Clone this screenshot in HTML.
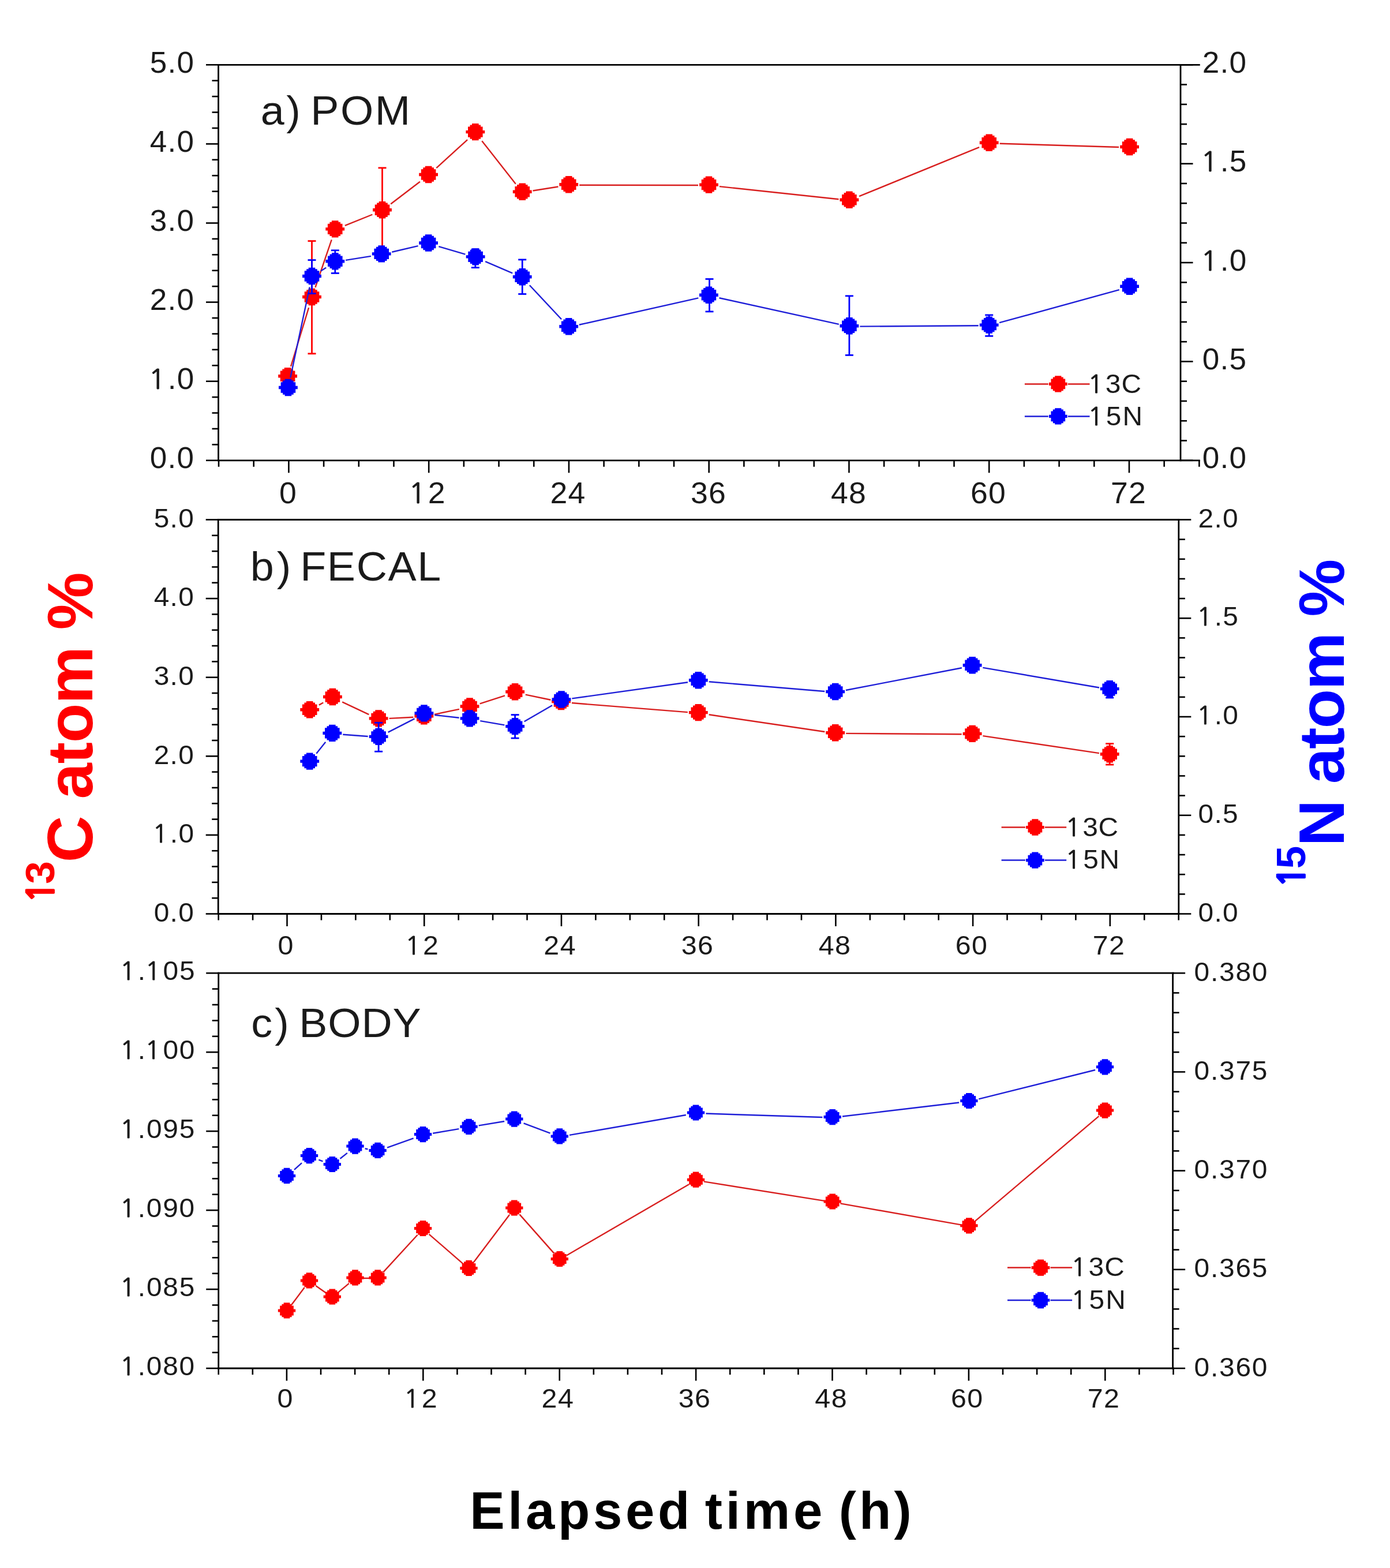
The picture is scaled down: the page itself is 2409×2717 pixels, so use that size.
<!DOCTYPE html>
<html><head><meta charset="utf-8"><title>Isotope enrichment over elapsed time</title>
<style>
html,body{margin:0;padding:0;background:#fff;}
svg{display:block;filter:blur(0.7px);}
text{font-family:"Liberation Sans",Arial,sans-serif;}
</style></head>
<body>
<svg width="2409" height="2717" viewBox="0 0 2409 2717">
<rect width="2409" height="2717" fill="#fff"/>
<line x1="377.62" y1="112.3" x2="2079.74" y2="112.3" stroke="#000" stroke-width="2.8" stroke-linecap="butt"/>
<line x1="377.62" y1="797.8" x2="2079.74" y2="797.8" stroke="#000" stroke-width="2.8" stroke-linecap="butt"/>
<line x1="378.5" y1="110.9" x2="378.5" y2="799.2" stroke="#000" stroke-width="2.8" stroke-linecap="butt"/>
<line x1="2046" y1="110.9" x2="2046" y2="799.2" stroke="#000" stroke-width="2.8" stroke-linecap="butt"/>
<line x1="379.02" y1="797.8" x2="379.02" y2="808.8" stroke="#000" stroke-width="2.6" stroke-linecap="butt"/>
<line x1="439.71" y1="797.8" x2="439.71" y2="808.8" stroke="#000" stroke-width="2.6" stroke-linecap="butt"/>
<line x1="500.4" y1="797.8" x2="500.4" y2="819.3" stroke="#000" stroke-width="2.6" stroke-linecap="butt"/>
<line x1="561.09" y1="797.8" x2="561.09" y2="808.8" stroke="#000" stroke-width="2.6" stroke-linecap="butt"/>
<line x1="621.78" y1="797.8" x2="621.78" y2="808.8" stroke="#000" stroke-width="2.6" stroke-linecap="butt"/>
<line x1="682.47" y1="797.8" x2="682.47" y2="808.8" stroke="#000" stroke-width="2.6" stroke-linecap="butt"/>
<line x1="743.16" y1="797.8" x2="743.16" y2="819.3" stroke="#000" stroke-width="2.6" stroke-linecap="butt"/>
<line x1="803.85" y1="797.8" x2="803.85" y2="808.8" stroke="#000" stroke-width="2.6" stroke-linecap="butt"/>
<line x1="864.54" y1="797.8" x2="864.54" y2="808.8" stroke="#000" stroke-width="2.6" stroke-linecap="butt"/>
<line x1="925.23" y1="797.8" x2="925.23" y2="808.8" stroke="#000" stroke-width="2.6" stroke-linecap="butt"/>
<line x1="985.92" y1="797.8" x2="985.92" y2="819.3" stroke="#000" stroke-width="2.6" stroke-linecap="butt"/>
<line x1="1046.61" y1="797.8" x2="1046.61" y2="808.8" stroke="#000" stroke-width="2.6" stroke-linecap="butt"/>
<line x1="1107.3" y1="797.8" x2="1107.3" y2="808.8" stroke="#000" stroke-width="2.6" stroke-linecap="butt"/>
<line x1="1167.99" y1="797.8" x2="1167.99" y2="808.8" stroke="#000" stroke-width="2.6" stroke-linecap="butt"/>
<line x1="1228.68" y1="797.8" x2="1228.68" y2="819.3" stroke="#000" stroke-width="2.6" stroke-linecap="butt"/>
<line x1="1289.37" y1="797.8" x2="1289.37" y2="808.8" stroke="#000" stroke-width="2.6" stroke-linecap="butt"/>
<line x1="1350.06" y1="797.8" x2="1350.06" y2="808.8" stroke="#000" stroke-width="2.6" stroke-linecap="butt"/>
<line x1="1410.75" y1="797.8" x2="1410.75" y2="808.8" stroke="#000" stroke-width="2.6" stroke-linecap="butt"/>
<line x1="1471.44" y1="797.8" x2="1471.44" y2="819.3" stroke="#000" stroke-width="2.6" stroke-linecap="butt"/>
<line x1="1532.13" y1="797.8" x2="1532.13" y2="808.8" stroke="#000" stroke-width="2.6" stroke-linecap="butt"/>
<line x1="1592.82" y1="797.8" x2="1592.82" y2="808.8" stroke="#000" stroke-width="2.6" stroke-linecap="butt"/>
<line x1="1653.51" y1="797.8" x2="1653.51" y2="808.8" stroke="#000" stroke-width="2.6" stroke-linecap="butt"/>
<line x1="1714.2" y1="797.8" x2="1714.2" y2="819.3" stroke="#000" stroke-width="2.6" stroke-linecap="butt"/>
<line x1="1774.89" y1="797.8" x2="1774.89" y2="808.8" stroke="#000" stroke-width="2.6" stroke-linecap="butt"/>
<line x1="1835.58" y1="797.8" x2="1835.58" y2="808.8" stroke="#000" stroke-width="2.6" stroke-linecap="butt"/>
<line x1="1896.27" y1="797.8" x2="1896.27" y2="808.8" stroke="#000" stroke-width="2.6" stroke-linecap="butt"/>
<line x1="1956.96" y1="797.8" x2="1956.96" y2="819.3" stroke="#000" stroke-width="2.6" stroke-linecap="butt"/>
<line x1="2017.65" y1="797.8" x2="2017.65" y2="808.8" stroke="#000" stroke-width="2.6" stroke-linecap="butt"/>
<line x1="2078.34" y1="797.8" x2="2078.34" y2="808.8" stroke="#000" stroke-width="2.6" stroke-linecap="butt"/>
<text transform="translate(484.01,872) scale(1.04,1)" style="font-size:51.5px;font-weight:normal;letter-spacing:1.2px" fill="#1a1a1a">0</text>
<text transform="translate(710.56,872) scale(1.04,1)" style="font-size:51.5px;font-weight:normal;letter-spacing:1.2px" fill="#1a1a1a"><tspan dx="-2.58" style="font-family:NanumGothic,'Liberation Sans',sans-serif;font-size:47.69px;stroke:#1a1a1a;stroke-width:0.9px">1</tspan><tspan dx="2.58">2</tspan></text>
<text transform="translate(953.45,872) scale(1.04,1)" style="font-size:51.5px;font-weight:normal;letter-spacing:1.2px" fill="#1a1a1a">24</text>
<text transform="translate(1196.93,872) scale(1.04,1)" style="font-size:51.5px;font-weight:normal;letter-spacing:1.2px" fill="#1a1a1a">36</text>
<text transform="translate(1440.07,872) scale(1.04,1)" style="font-size:51.5px;font-weight:normal;letter-spacing:1.2px" fill="#1a1a1a">48</text>
<text transform="translate(1681.97,872) scale(1.04,1)" style="font-size:51.5px;font-weight:normal;letter-spacing:1.2px" fill="#1a1a1a">60</text>
<text transform="translate(1925.03,872) scale(1.04,1)" style="font-size:51.5px;font-weight:normal;letter-spacing:1.2px" fill="#1a1a1a">72</text>
<line x1="357" y1="797.8" x2="378.5" y2="797.8" stroke="#000" stroke-width="2.6" stroke-linecap="butt"/>
<line x1="367.5" y1="770.38" x2="378.5" y2="770.38" stroke="#000" stroke-width="2.6" stroke-linecap="butt"/>
<line x1="367.5" y1="742.96" x2="378.5" y2="742.96" stroke="#000" stroke-width="2.6" stroke-linecap="butt"/>
<line x1="367.5" y1="715.54" x2="378.5" y2="715.54" stroke="#000" stroke-width="2.6" stroke-linecap="butt"/>
<line x1="367.5" y1="688.12" x2="378.5" y2="688.12" stroke="#000" stroke-width="2.6" stroke-linecap="butt"/>
<text transform="translate(259.85,811.3) scale(1.04,1)" style="font-size:51px;font-weight:normal;letter-spacing:1.2px" fill="#1a1a1a">0.0</text>
<line x1="357" y1="660.7" x2="378.5" y2="660.7" stroke="#000" stroke-width="2.6" stroke-linecap="butt"/>
<line x1="367.5" y1="633.28" x2="378.5" y2="633.28" stroke="#000" stroke-width="2.6" stroke-linecap="butt"/>
<line x1="367.5" y1="605.86" x2="378.5" y2="605.86" stroke="#000" stroke-width="2.6" stroke-linecap="butt"/>
<line x1="367.5" y1="578.44" x2="378.5" y2="578.44" stroke="#000" stroke-width="2.6" stroke-linecap="butt"/>
<line x1="367.5" y1="551.02" x2="378.5" y2="551.02" stroke="#000" stroke-width="2.6" stroke-linecap="butt"/>
<text transform="translate(259.85,674.2) scale(1.04,1)" style="font-size:51px;font-weight:normal;letter-spacing:1.2px" fill="#1a1a1a"><tspan dx="-2.55" style="font-family:NanumGothic,'Liberation Sans',sans-serif;font-size:47.23px;stroke:#1a1a1a;stroke-width:0.9px">1</tspan><tspan dx="2.55">.</tspan>0</text>
<line x1="357" y1="523.6" x2="378.5" y2="523.6" stroke="#000" stroke-width="2.6" stroke-linecap="butt"/>
<line x1="367.5" y1="496.18" x2="378.5" y2="496.18" stroke="#000" stroke-width="2.6" stroke-linecap="butt"/>
<line x1="367.5" y1="468.76" x2="378.5" y2="468.76" stroke="#000" stroke-width="2.6" stroke-linecap="butt"/>
<line x1="367.5" y1="441.34" x2="378.5" y2="441.34" stroke="#000" stroke-width="2.6" stroke-linecap="butt"/>
<line x1="367.5" y1="413.92" x2="378.5" y2="413.92" stroke="#000" stroke-width="2.6" stroke-linecap="butt"/>
<text transform="translate(259.85,537.1) scale(1.04,1)" style="font-size:51px;font-weight:normal;letter-spacing:1.2px" fill="#1a1a1a">2.0</text>
<line x1="357" y1="386.5" x2="378.5" y2="386.5" stroke="#000" stroke-width="2.6" stroke-linecap="butt"/>
<line x1="367.5" y1="359.08" x2="378.5" y2="359.08" stroke="#000" stroke-width="2.6" stroke-linecap="butt"/>
<line x1="367.5" y1="331.66" x2="378.5" y2="331.66" stroke="#000" stroke-width="2.6" stroke-linecap="butt"/>
<line x1="367.5" y1="304.24" x2="378.5" y2="304.24" stroke="#000" stroke-width="2.6" stroke-linecap="butt"/>
<line x1="367.5" y1="276.82" x2="378.5" y2="276.82" stroke="#000" stroke-width="2.6" stroke-linecap="butt"/>
<text transform="translate(259.85,400) scale(1.04,1)" style="font-size:51px;font-weight:normal;letter-spacing:1.2px" fill="#1a1a1a">3.0</text>
<line x1="357" y1="249.4" x2="378.5" y2="249.4" stroke="#000" stroke-width="2.6" stroke-linecap="butt"/>
<line x1="367.5" y1="221.98" x2="378.5" y2="221.98" stroke="#000" stroke-width="2.6" stroke-linecap="butt"/>
<line x1="367.5" y1="194.56" x2="378.5" y2="194.56" stroke="#000" stroke-width="2.6" stroke-linecap="butt"/>
<line x1="367.5" y1="167.14" x2="378.5" y2="167.14" stroke="#000" stroke-width="2.6" stroke-linecap="butt"/>
<line x1="367.5" y1="139.72" x2="378.5" y2="139.72" stroke="#000" stroke-width="2.6" stroke-linecap="butt"/>
<text transform="translate(259.85,262.9) scale(1.04,1)" style="font-size:51px;font-weight:normal;letter-spacing:1.2px" fill="#1a1a1a">4.0</text>
<line x1="357" y1="112.3" x2="378.5" y2="112.3" stroke="#000" stroke-width="2.6" stroke-linecap="butt"/>
<text transform="translate(259.85,125.8) scale(1.04,1)" style="font-size:51px;font-weight:normal;letter-spacing:1.2px" fill="#1a1a1a">5.0</text>
<line x1="2046" y1="797.8" x2="2067.5" y2="797.8" stroke="#000" stroke-width="2.6" stroke-linecap="butt"/>
<line x1="2046" y1="763.52" x2="2057" y2="763.52" stroke="#000" stroke-width="2.6" stroke-linecap="butt"/>
<line x1="2046" y1="729.25" x2="2057" y2="729.25" stroke="#000" stroke-width="2.6" stroke-linecap="butt"/>
<line x1="2046" y1="694.97" x2="2057" y2="694.97" stroke="#000" stroke-width="2.6" stroke-linecap="butt"/>
<line x1="2046" y1="660.7" x2="2057" y2="660.7" stroke="#000" stroke-width="2.6" stroke-linecap="butt"/>
<text transform="translate(2083.7,811.3) scale(1.04,1)" style="font-size:51px;font-weight:normal;letter-spacing:1.2px" fill="#1a1a1a">0.0</text>
<line x1="2046" y1="626.42" x2="2067.5" y2="626.42" stroke="#000" stroke-width="2.6" stroke-linecap="butt"/>
<line x1="2046" y1="592.15" x2="2057" y2="592.15" stroke="#000" stroke-width="2.6" stroke-linecap="butt"/>
<line x1="2046" y1="557.88" x2="2057" y2="557.88" stroke="#000" stroke-width="2.6" stroke-linecap="butt"/>
<line x1="2046" y1="523.6" x2="2057" y2="523.6" stroke="#000" stroke-width="2.6" stroke-linecap="butt"/>
<line x1="2046" y1="489.32" x2="2057" y2="489.32" stroke="#000" stroke-width="2.6" stroke-linecap="butt"/>
<text transform="translate(2083.7,639.92) scale(1.04,1)" style="font-size:51px;font-weight:normal;letter-spacing:1.2px" fill="#1a1a1a">0.5</text>
<line x1="2046" y1="455.05" x2="2067.5" y2="455.05" stroke="#000" stroke-width="2.6" stroke-linecap="butt"/>
<line x1="2046" y1="420.77" x2="2057" y2="420.77" stroke="#000" stroke-width="2.6" stroke-linecap="butt"/>
<line x1="2046" y1="386.5" x2="2057" y2="386.5" stroke="#000" stroke-width="2.6" stroke-linecap="butt"/>
<line x1="2046" y1="352.22" x2="2057" y2="352.22" stroke="#000" stroke-width="2.6" stroke-linecap="butt"/>
<line x1="2046" y1="317.95" x2="2057" y2="317.95" stroke="#000" stroke-width="2.6" stroke-linecap="butt"/>
<text transform="translate(2083.7,468.55) scale(1.04,1)" style="font-size:51px;font-weight:normal;letter-spacing:1.2px" fill="#1a1a1a"><tspan dx="-2.55" style="font-family:NanumGothic,'Liberation Sans',sans-serif;font-size:47.23px;stroke:#1a1a1a;stroke-width:0.9px">1</tspan><tspan dx="2.55">.</tspan>0</text>
<line x1="2046" y1="283.67" x2="2067.5" y2="283.67" stroke="#000" stroke-width="2.6" stroke-linecap="butt"/>
<line x1="2046" y1="249.4" x2="2057" y2="249.4" stroke="#000" stroke-width="2.6" stroke-linecap="butt"/>
<line x1="2046" y1="215.12" x2="2057" y2="215.12" stroke="#000" stroke-width="2.6" stroke-linecap="butt"/>
<line x1="2046" y1="180.85" x2="2057" y2="180.85" stroke="#000" stroke-width="2.6" stroke-linecap="butt"/>
<line x1="2046" y1="146.57" x2="2057" y2="146.57" stroke="#000" stroke-width="2.6" stroke-linecap="butt"/>
<text transform="translate(2083.7,297.17) scale(1.04,1)" style="font-size:51px;font-weight:normal;letter-spacing:1.2px" fill="#1a1a1a"><tspan dx="-2.55" style="font-family:NanumGothic,'Liberation Sans',sans-serif;font-size:47.23px;stroke:#1a1a1a;stroke-width:0.9px">1</tspan><tspan dx="2.55">.</tspan>5</text>
<line x1="2046" y1="112.3" x2="2067.5" y2="112.3" stroke="#000" stroke-width="2.6" stroke-linecap="butt"/>
<text transform="translate(2083.7,125.8) scale(1.04,1)" style="font-size:51px;font-weight:normal;letter-spacing:1.2px" fill="#1a1a1a">2.0</text>
<text transform="translate(451.71,216.2) scale(1.06,1)" style="font-size:69.5px;font-weight:normal;letter-spacing:3.26px" fill="#1a1a1a">a)</text>
<text transform="translate(538.16,216.2) scale(1.06,1)" style="font-size:69.5px;font-weight:normal;letter-spacing:2.49px" fill="#1a1a1a">POM</text>
<line x1="504" y1="635.01" x2="535.1" y2="533.19" stroke="#d81e1e" stroke-width="2.4" stroke-linecap="butt"/>
<line x1="546.48" y1="497.99" x2="574.72" y2="415.41" stroke="#d81e1e" stroke-width="2.4" stroke-linecap="butt"/>
<line x1="597.85" y1="390.96" x2="645.35" y2="371.74" stroke="#d81e1e" stroke-width="2.4" stroke-linecap="butt"/>
<line x1="677.19" y1="353.56" x2="727.91" y2="314.74" stroke="#d81e1e" stroke-width="2.4" stroke-linecap="butt"/>
<line x1="756.28" y1="291.05" x2="810.12" y2="242.05" stroke="#d81e1e" stroke-width="2.4" stroke-linecap="butt"/>
<line x1="835.22" y1="244.15" x2="893.78" y2="318.75" stroke="#d81e1e" stroke-width="2.4" stroke-linecap="butt"/>
<line x1="923.48" y1="330.44" x2="967.42" y2="323.56" stroke="#d81e1e" stroke-width="2.4" stroke-linecap="butt"/>
<line x1="1004.2" y1="320.73" x2="1210" y2="321.07" stroke="#d81e1e" stroke-width="2.4" stroke-linecap="butt"/>
<line x1="1246.89" y1="323.07" x2="1453.51" y2="345.23" stroke="#d81e1e" stroke-width="2.4" stroke-linecap="butt"/>
<line x1="1489.03" y1="340.2" x2="1697.07" y2="255.2" stroke="#d81e1e" stroke-width="2.4" stroke-linecap="butt"/>
<line x1="1732.69" y1="248.75" x2="1939.11" y2="254.95" stroke="#d81e1e" stroke-width="2.4" stroke-linecap="butt"/>
<line x1="540.5" y1="417.6" x2="540.5" y2="612.8" stroke="#ff0000" stroke-width="2.8" stroke-linecap="butt"/>
<line x1="533.5" y1="417.6" x2="547.5" y2="417.6" stroke="#ff0000" stroke-width="2.8" stroke-linecap="butt"/>
<line x1="533.5" y1="612.8" x2="547.5" y2="612.8" stroke="#ff0000" stroke-width="2.8" stroke-linecap="butt"/>
<line x1="662.5" y1="290.9" x2="662.5" y2="436.7" stroke="#ff0000" stroke-width="2.8" stroke-linecap="butt"/>
<line x1="655.5" y1="290.9" x2="669.5" y2="290.9" stroke="#ff0000" stroke-width="2.8" stroke-linecap="butt"/>
<line x1="655.5" y1="436.7" x2="669.5" y2="436.7" stroke="#ff0000" stroke-width="2.8" stroke-linecap="butt"/>
<polygon points="504.4,637 504.4,639.5 507.9,639.5 507.9,642.5 511.4,642.5 511.4,649 515,649 515,654.4 511.4,654.4 511.4,660.9 507.9,660.9 507.9,663.9 504.4,663.9 504.4,666.4 492.8,666.4 492.8,663.9 489.3,663.9 489.3,660.9 485.8,660.9 485.8,654.4 482.2,654.4 482.2,649 485.8,649 485.8,642.5 489.3,642.5 489.3,639.5 492.8,639.5 492.8,637" fill="#ff0000"/>
<polygon points="546.3,499.8 546.3,502.3 549.8,502.3 549.8,505.3 553.3,505.3 553.3,511.8 556.9,511.8 556.9,517.2 553.3,517.2 553.3,523.7 549.8,523.7 549.8,526.7 546.3,526.7 546.3,529.2 534.7,529.2 534.7,526.7 531.2,526.7 531.2,523.7 527.7,523.7 527.7,517.2 524.1,517.2 524.1,511.8 527.7,511.8 527.7,505.3 531.2,505.3 531.2,502.3 534.7,502.3 534.7,499.8" fill="#ff0000"/>
<polygon points="586.5,382.2 586.5,384.7 590,384.7 590,387.7 593.5,387.7 593.5,394.2 597.1,394.2 597.1,399.6 593.5,399.6 593.5,406.1 590,406.1 590,409.1 586.5,409.1 586.5,411.6 574.9,411.6 574.9,409.1 571.4,409.1 571.4,406.1 567.9,406.1 567.9,399.6 564.3,399.6 564.3,394.2 567.9,394.2 567.9,387.7 571.4,387.7 571.4,384.7 574.9,384.7 574.9,382.2" fill="#ff0000"/>
<polygon points="668.3,349.1 668.3,351.6 671.8,351.6 671.8,354.6 675.3,354.6 675.3,361.1 678.9,361.1 678.9,366.5 675.3,366.5 675.3,373 671.8,373 671.8,376 668.3,376 668.3,378.5 656.7,378.5 656.7,376 653.2,376 653.2,373 649.7,373 649.7,366.5 646.1,366.5 646.1,361.1 649.7,361.1 649.7,354.6 653.2,354.6 653.2,351.6 656.7,351.6 656.7,349.1" fill="#ff0000"/>
<polygon points="748.4,287.8 748.4,290.3 751.9,290.3 751.9,293.3 755.4,293.3 755.4,299.8 759,299.8 759,305.2 755.4,305.2 755.4,311.7 751.9,311.7 751.9,314.7 748.4,314.7 748.4,317.2 736.8,317.2 736.8,314.7 733.3,314.7 733.3,311.7 729.8,311.7 729.8,305.2 726.2,305.2 726.2,299.8 729.8,299.8 729.8,293.3 733.3,293.3 733.3,290.3 736.8,290.3 736.8,287.8" fill="#ff0000"/>
<polygon points="829.6,213.9 829.6,216.4 833.1,216.4 833.1,219.4 836.6,219.4 836.6,225.9 840.2,225.9 840.2,231.3 836.6,231.3 836.6,237.8 833.1,237.8 833.1,240.8 829.6,240.8 829.6,243.3 818,243.3 818,240.8 814.5,240.8 814.5,237.8 811,237.8 811,231.3 807.4,231.3 807.4,225.9 811,225.9 811,219.4 814.5,219.4 814.5,216.4 818,216.4 818,213.9" fill="#ff0000"/>
<polygon points="911,317.6 911,320.1 914.5,320.1 914.5,323.1 918,323.1 918,329.6 921.6,329.6 921.6,335 918,335 918,341.5 914.5,341.5 914.5,344.5 911,344.5 911,347 899.4,347 899.4,344.5 895.9,344.5 895.9,341.5 892.4,341.5 892.4,335 888.8,335 888.8,329.6 892.4,329.6 892.4,323.1 895.9,323.1 895.9,320.1 899.4,320.1 899.4,317.6" fill="#ff0000"/>
<polygon points="991.5,305 991.5,307.5 995,307.5 995,310.5 998.5,310.5 998.5,317 1002.1,317 1002.1,322.4 998.5,322.4 998.5,328.9 995,328.9 995,331.9 991.5,331.9 991.5,334.4 979.9,334.4 979.9,331.9 976.4,331.9 976.4,328.9 972.9,328.9 972.9,322.4 969.3,322.4 969.3,317 972.9,317 972.9,310.5 976.4,310.5 976.4,307.5 979.9,307.5 979.9,305" fill="#ff0000"/>
<polygon points="1234.3,305.4 1234.3,307.9 1237.8,307.9 1237.8,310.9 1241.3,310.9 1241.3,317.4 1244.9,317.4 1244.9,322.8 1241.3,322.8 1241.3,329.3 1237.8,329.3 1237.8,332.3 1234.3,332.3 1234.3,334.8 1222.7,334.8 1222.7,332.3 1219.2,332.3 1219.2,329.3 1215.7,329.3 1215.7,322.8 1212.1,322.8 1212.1,317.4 1215.7,317.4 1215.7,310.9 1219.2,310.9 1219.2,307.9 1222.7,307.9 1222.7,305.4" fill="#ff0000"/>
<polygon points="1477.7,331.5 1477.7,334 1481.2,334 1481.2,337 1484.7,337 1484.7,343.5 1488.3,343.5 1488.3,348.9 1484.7,348.9 1484.7,355.4 1481.2,355.4 1481.2,358.4 1477.7,358.4 1477.7,360.9 1466.1,360.9 1466.1,358.4 1462.6,358.4 1462.6,355.4 1459.1,355.4 1459.1,348.9 1455.5,348.9 1455.5,343.5 1459.1,343.5 1459.1,337 1462.6,337 1462.6,334 1466.1,334 1466.1,331.5" fill="#ff0000"/>
<polygon points="1720,232.5 1720,235 1723.5,235 1723.5,238 1727,238 1727,244.5 1730.6,244.5 1730.6,249.9 1727,249.9 1727,256.4 1723.5,256.4 1723.5,259.4 1720,259.4 1720,261.9 1708.4,261.9 1708.4,259.4 1704.9,259.4 1704.9,256.4 1701.4,256.4 1701.4,249.9 1697.8,249.9 1697.8,244.5 1701.4,244.5 1701.4,238 1704.9,238 1704.9,235 1708.4,235 1708.4,232.5" fill="#ff0000"/>
<polygon points="1963.4,239.8 1963.4,242.3 1966.9,242.3 1966.9,245.3 1970.4,245.3 1970.4,251.8 1974,251.8 1974,257.2 1970.4,257.2 1970.4,263.7 1966.9,263.7 1966.9,266.7 1963.4,266.7 1963.4,269.2 1951.8,269.2 1951.8,266.7 1948.3,266.7 1948.3,263.7 1944.8,263.7 1944.8,257.2 1941.2,257.2 1941.2,251.8 1944.8,251.8 1944.8,245.3 1948.3,245.3 1948.3,242.3 1951.8,242.3 1951.8,239.8" fill="#ff0000"/>
<line x1="503.25" y1="654.41" x2="536.65" y2="497.59" stroke="#1e1ed8" stroke-width="2.4" stroke-linecap="butt"/>
<line x1="556.1" y1="469.55" x2="565.2" y2="463.75" stroke="#1e1ed8" stroke-width="2.4" stroke-linecap="butt"/>
<line x1="599.07" y1="450.87" x2="642.93" y2="443.83" stroke="#1e1ed8" stroke-width="2.4" stroke-linecap="butt"/>
<line x1="679.22" y1="436.72" x2="724.58" y2="426.18" stroke="#1e1ed8" stroke-width="2.4" stroke-linecap="butt"/>
<line x1="760.35" y1="427.21" x2="806.35" y2="440.69" stroke="#1e1ed8" stroke-width="2.4" stroke-linecap="butt"/>
<line x1="841.1" y1="453.2" x2="888.2" y2="473.4" stroke="#1e1ed8" stroke-width="2.4" stroke-linecap="butt"/>
<line x1="917.83" y1="494.21" x2="973.07" y2="553.29" stroke="#1e1ed8" stroke-width="2.4" stroke-linecap="butt"/>
<line x1="1003.75" y1="562.75" x2="1210.35" y2="516.35" stroke="#1e1ed8" stroke-width="2.4" stroke-linecap="butt"/>
<line x1="1246.47" y1="516.27" x2="1453.83" y2="561.83" stroke="#1e1ed8" stroke-width="2.4" stroke-linecap="butt"/>
<line x1="1490.4" y1="565.67" x2="1695.7" y2="564.23" stroke="#1e1ed8" stroke-width="2.4" stroke-linecap="butt"/>
<line x1="1732.04" y1="559.2" x2="1939.76" y2="502.1" stroke="#1e1ed8" stroke-width="2.4" stroke-linecap="butt"/>
<line x1="540.5" y1="450.6" x2="540.5" y2="508.6" stroke="#0000ff" stroke-width="2.8" stroke-linecap="butt"/>
<line x1="533.5" y1="450.6" x2="547.5" y2="450.6" stroke="#0000ff" stroke-width="2.8" stroke-linecap="butt"/>
<line x1="533.5" y1="508.6" x2="547.5" y2="508.6" stroke="#0000ff" stroke-width="2.8" stroke-linecap="butt"/>
<line x1="580.8" y1="433.8" x2="580.8" y2="473.4" stroke="#0000ff" stroke-width="2.8" stroke-linecap="butt"/>
<line x1="573.8" y1="433.8" x2="587.8" y2="433.8" stroke="#0000ff" stroke-width="2.8" stroke-linecap="butt"/>
<line x1="573.8" y1="473.4" x2="587.8" y2="473.4" stroke="#0000ff" stroke-width="2.8" stroke-linecap="butt"/>
<line x1="823.8" y1="432" x2="823.8" y2="463.7" stroke="#0000ff" stroke-width="2.8" stroke-linecap="butt"/>
<line x1="816.8" y1="432" x2="830.8" y2="432" stroke="#0000ff" stroke-width="2.8" stroke-linecap="butt"/>
<line x1="816.8" y1="463.7" x2="830.8" y2="463.7" stroke="#0000ff" stroke-width="2.8" stroke-linecap="butt"/>
<line x1="905.2" y1="449.9" x2="905.2" y2="509.5" stroke="#0000ff" stroke-width="2.8" stroke-linecap="butt"/>
<line x1="898.2" y1="449.9" x2="912.2" y2="449.9" stroke="#0000ff" stroke-width="2.8" stroke-linecap="butt"/>
<line x1="898.2" y1="509.5" x2="912.2" y2="509.5" stroke="#0000ff" stroke-width="2.8" stroke-linecap="butt"/>
<line x1="1229.5" y1="483.5" x2="1229.5" y2="539.9" stroke="#0000ff" stroke-width="2.8" stroke-linecap="butt"/>
<line x1="1222.5" y1="483.5" x2="1236.5" y2="483.5" stroke="#0000ff" stroke-width="2.8" stroke-linecap="butt"/>
<line x1="1222.5" y1="539.9" x2="1236.5" y2="539.9" stroke="#0000ff" stroke-width="2.8" stroke-linecap="butt"/>
<line x1="1471.9" y1="512.8" x2="1471.9" y2="615.4" stroke="#0000ff" stroke-width="2.8" stroke-linecap="butt"/>
<line x1="1464.9" y1="512.8" x2="1478.9" y2="512.8" stroke="#0000ff" stroke-width="2.8" stroke-linecap="butt"/>
<line x1="1464.9" y1="615.4" x2="1478.9" y2="615.4" stroke="#0000ff" stroke-width="2.8" stroke-linecap="butt"/>
<line x1="1714.2" y1="545.9" x2="1714.2" y2="582.3" stroke="#0000ff" stroke-width="2.8" stroke-linecap="butt"/>
<line x1="1707.2" y1="545.9" x2="1721.2" y2="545.9" stroke="#0000ff" stroke-width="2.8" stroke-linecap="butt"/>
<line x1="1707.2" y1="582.3" x2="1721.2" y2="582.3" stroke="#0000ff" stroke-width="2.8" stroke-linecap="butt"/>
<polygon points="505.2,656.8 505.2,659.3 508.7,659.3 508.7,662.3 512.2,662.3 512.2,668.8 515.8,668.8 515.8,674.2 512.2,674.2 512.2,680.7 508.7,680.7 508.7,683.7 505.2,683.7 505.2,686.2 493.6,686.2 493.6,683.7 490.1,683.7 490.1,680.7 486.6,680.7 486.6,674.2 483,674.2 483,668.8 486.6,668.8 486.6,662.3 490.1,662.3 490.1,659.3 493.6,659.3 493.6,656.8" fill="#0000ff"/>
<polygon points="546.3,463.8 546.3,466.3 549.8,466.3 549.8,469.3 553.3,469.3 553.3,475.8 556.9,475.8 556.9,481.2 553.3,481.2 553.3,487.7 549.8,487.7 549.8,490.7 546.3,490.7 546.3,493.2 534.7,493.2 534.7,490.7 531.2,490.7 531.2,487.7 527.7,487.7 527.7,481.2 524.1,481.2 524.1,475.8 527.7,475.8 527.7,469.3 531.2,469.3 531.2,466.3 534.7,466.3 534.7,463.8" fill="#0000ff"/>
<polygon points="586.6,438.1 586.6,440.6 590.1,440.6 590.1,443.6 593.6,443.6 593.6,450.1 597.2,450.1 597.2,455.5 593.6,455.5 593.6,462 590.1,462 590.1,465 586.6,465 586.6,467.5 575,467.5 575,465 571.5,465 571.5,462 568,462 568,455.5 564.4,455.5 564.4,450.1 568,450.1 568,443.6 571.5,443.6 571.5,440.6 575,440.6 575,438.1" fill="#0000ff"/>
<polygon points="667,425.2 667,427.7 670.5,427.7 670.5,430.7 674,430.7 674,437.2 677.6,437.2 677.6,442.6 674,442.6 674,449.1 670.5,449.1 670.5,452.1 667,452.1 667,454.6 655.4,454.6 655.4,452.1 651.9,452.1 651.9,449.1 648.4,449.1 648.4,442.6 644.8,442.6 644.8,437.2 648.4,437.2 648.4,430.7 651.9,430.7 651.9,427.7 655.4,427.7 655.4,425.2" fill="#0000ff"/>
<polygon points="748.4,406.3 748.4,408.8 751.9,408.8 751.9,411.8 755.4,411.8 755.4,418.3 759,418.3 759,423.7 755.4,423.7 755.4,430.2 751.9,430.2 751.9,433.2 748.4,433.2 748.4,435.7 736.8,435.7 736.8,433.2 733.3,433.2 733.3,430.2 729.8,430.2 729.8,423.7 726.2,423.7 726.2,418.3 729.8,418.3 729.8,411.8 733.3,411.8 733.3,408.8 736.8,408.8 736.8,406.3" fill="#0000ff"/>
<polygon points="829.9,430.2 829.9,432.7 833.4,432.7 833.4,435.7 836.9,435.7 836.9,442.2 840.5,442.2 840.5,447.6 836.9,447.6 836.9,454.1 833.4,454.1 833.4,457.1 829.9,457.1 829.9,459.6 818.3,459.6 818.3,457.1 814.8,457.1 814.8,454.1 811.3,454.1 811.3,447.6 807.7,447.6 807.7,442.2 811.3,442.2 811.3,435.7 814.8,435.7 814.8,432.7 818.3,432.7 818.3,430.2" fill="#0000ff"/>
<polygon points="911,465 911,467.5 914.5,467.5 914.5,470.5 918,470.5 918,477 921.6,477 921.6,482.4 918,482.4 918,488.9 914.5,488.9 914.5,491.9 911,491.9 911,494.4 899.4,494.4 899.4,491.9 895.9,491.9 895.9,488.9 892.4,488.9 892.4,482.4 888.8,482.4 888.8,477 892.4,477 892.4,470.5 895.9,470.5 895.9,467.5 899.4,467.5 899.4,465" fill="#0000ff"/>
<polygon points="991.5,551.1 991.5,553.6 995,553.6 995,556.6 998.5,556.6 998.5,563.1 1002.1,563.1 1002.1,568.5 998.5,568.5 998.5,575 995,575 995,578 991.5,578 991.5,580.5 979.9,580.5 979.9,578 976.4,578 976.4,575 972.9,575 972.9,568.5 969.3,568.5 969.3,563.1 972.9,563.1 972.9,556.6 976.4,556.6 976.4,553.6 979.9,553.6 979.9,551.1" fill="#0000ff"/>
<polygon points="1234.2,496.6 1234.2,499.1 1237.7,499.1 1237.7,502.1 1241.2,502.1 1241.2,508.6 1244.8,508.6 1244.8,514 1241.2,514 1241.2,520.5 1237.7,520.5 1237.7,523.5 1234.2,523.5 1234.2,526 1222.6,526 1222.6,523.5 1219.1,523.5 1219.1,520.5 1215.6,520.5 1215.6,514 1212,514 1212,508.6 1215.6,508.6 1215.6,502.1 1219.1,502.1 1219.1,499.1 1222.6,499.1 1222.6,496.6" fill="#0000ff"/>
<polygon points="1477.7,550.1 1477.7,552.6 1481.2,552.6 1481.2,555.6 1484.7,555.6 1484.7,562.1 1488.3,562.1 1488.3,567.5 1484.7,567.5 1484.7,574 1481.2,574 1481.2,577 1477.7,577 1477.7,579.5 1466.1,579.5 1466.1,577 1462.6,577 1462.6,574 1459.1,574 1459.1,567.5 1455.5,567.5 1455.5,562.1 1459.1,562.1 1459.1,555.6 1462.6,555.6 1462.6,552.6 1466.1,552.6 1466.1,550.1" fill="#0000ff"/>
<polygon points="1720,548.4 1720,550.9 1723.5,550.9 1723.5,553.9 1727,553.9 1727,560.4 1730.6,560.4 1730.6,565.8 1727,565.8 1727,572.3 1723.5,572.3 1723.5,575.3 1720,575.3 1720,577.8 1708.4,577.8 1708.4,575.3 1704.9,575.3 1704.9,572.3 1701.4,572.3 1701.4,565.8 1697.8,565.8 1697.8,560.4 1701.4,560.4 1701.4,553.9 1704.9,553.9 1704.9,550.9 1708.4,550.9 1708.4,548.4" fill="#0000ff"/>
<polygon points="1963.4,481.5 1963.4,484 1966.9,484 1966.9,487 1970.4,487 1970.4,493.5 1974,493.5 1974,498.9 1970.4,498.9 1970.4,505.4 1966.9,505.4 1966.9,508.4 1963.4,508.4 1963.4,510.9 1951.8,510.9 1951.8,508.4 1948.3,508.4 1948.3,505.4 1944.8,505.4 1944.8,498.9 1941.2,498.9 1941.2,493.5 1944.8,493.5 1944.8,487 1948.3,487 1948.3,484 1951.8,484 1951.8,481.5" fill="#0000ff"/>
<line x1="1775.9" y1="665.4" x2="1816.8" y2="665.4" stroke="#d81e1e" stroke-width="2.5" stroke-linecap="butt"/>
<line x1="1850.8" y1="665.4" x2="1888.5" y2="665.4" stroke="#d81e1e" stroke-width="2.5" stroke-linecap="butt"/>
<polygon points="1839.4,651.21 1839.4,653.62 1842.78,653.62 1842.78,656.52 1846.16,656.52 1846.16,662.79 1849.63,662.79 1849.63,668.01 1846.16,668.01 1846.16,674.28 1842.78,674.28 1842.78,677.18 1839.4,677.18 1839.4,679.59 1828.2,679.59 1828.2,677.18 1824.82,677.18 1824.82,674.28 1821.44,674.28 1821.44,668.01 1817.97,668.01 1817.97,662.79 1821.44,662.79 1821.44,656.52 1824.82,656.52 1824.82,653.62 1828.2,653.62 1828.2,651.21" fill="#ff0000"/>
<text transform="translate(1887.56,681) scale(1.04,1)" style="font-size:46px;font-weight:normal;letter-spacing:1.2px" fill="#1a1a1a"><tspan dx="-2.3" style="font-family:NanumGothic,'Liberation Sans',sans-serif;font-size:42.6px;stroke:#1a1a1a;stroke-width:0.9px">1</tspan><tspan dx="2.3">3</tspan>C</text>
<line x1="1775.9" y1="721.4" x2="1816.8" y2="721.4" stroke="#1e1ed8" stroke-width="2.5" stroke-linecap="butt"/>
<line x1="1850.8" y1="721.4" x2="1888.5" y2="721.4" stroke="#1e1ed8" stroke-width="2.5" stroke-linecap="butt"/>
<polygon points="1839.4,707.21 1839.4,709.62 1842.78,709.62 1842.78,712.52 1846.16,712.52 1846.16,718.79 1849.63,718.79 1849.63,724.01 1846.16,724.01 1846.16,730.28 1842.78,730.28 1842.78,733.18 1839.4,733.18 1839.4,735.59 1828.2,735.59 1828.2,733.18 1824.82,733.18 1824.82,730.28 1821.44,730.28 1821.44,724.01 1817.97,724.01 1817.97,718.79 1821.44,718.79 1821.44,712.52 1824.82,712.52 1824.82,709.62 1828.2,709.62 1828.2,707.21" fill="#0000ff"/>
<text transform="translate(1887.56,737) scale(1.04,1)" style="font-size:46px;font-weight:normal;letter-spacing:2.19px" fill="#1a1a1a"><tspan dx="-2.3" style="font-family:NanumGothic,'Liberation Sans',sans-serif;font-size:42.6px;stroke:#1a1a1a;stroke-width:0.9px">1</tspan><tspan dx="2.3">5</tspan>N</text>
<line x1="377.24" y1="900.5" x2="2044.2" y2="900.5" stroke="#000" stroke-width="2.8" stroke-linecap="butt"/>
<line x1="377.24" y1="1583.5" x2="2044.2" y2="1583.5" stroke="#000" stroke-width="2.8" stroke-linecap="butt"/>
<line x1="378.2" y1="899.1" x2="378.2" y2="1584.9" stroke="#000" stroke-width="2.8" stroke-linecap="butt"/>
<line x1="2042.8" y1="899.1" x2="2042.8" y2="1584.9" stroke="#000" stroke-width="2.8" stroke-linecap="butt"/>
<line x1="378.64" y1="1583.5" x2="378.64" y2="1594.5" stroke="#000" stroke-width="2.6" stroke-linecap="butt"/>
<line x1="438.07" y1="1583.5" x2="438.07" y2="1594.5" stroke="#000" stroke-width="2.6" stroke-linecap="butt"/>
<line x1="497.5" y1="1583.5" x2="497.5" y2="1605" stroke="#000" stroke-width="2.6" stroke-linecap="butt"/>
<line x1="556.93" y1="1583.5" x2="556.93" y2="1594.5" stroke="#000" stroke-width="2.6" stroke-linecap="butt"/>
<line x1="616.36" y1="1583.5" x2="616.36" y2="1594.5" stroke="#000" stroke-width="2.6" stroke-linecap="butt"/>
<line x1="675.79" y1="1583.5" x2="675.79" y2="1594.5" stroke="#000" stroke-width="2.6" stroke-linecap="butt"/>
<line x1="735.22" y1="1583.5" x2="735.22" y2="1605" stroke="#000" stroke-width="2.6" stroke-linecap="butt"/>
<line x1="794.65" y1="1583.5" x2="794.65" y2="1594.5" stroke="#000" stroke-width="2.6" stroke-linecap="butt"/>
<line x1="854.08" y1="1583.5" x2="854.08" y2="1594.5" stroke="#000" stroke-width="2.6" stroke-linecap="butt"/>
<line x1="913.51" y1="1583.5" x2="913.51" y2="1594.5" stroke="#000" stroke-width="2.6" stroke-linecap="butt"/>
<line x1="972.94" y1="1583.5" x2="972.94" y2="1605" stroke="#000" stroke-width="2.6" stroke-linecap="butt"/>
<line x1="1032.37" y1="1583.5" x2="1032.37" y2="1594.5" stroke="#000" stroke-width="2.6" stroke-linecap="butt"/>
<line x1="1091.8" y1="1583.5" x2="1091.8" y2="1594.5" stroke="#000" stroke-width="2.6" stroke-linecap="butt"/>
<line x1="1151.23" y1="1583.5" x2="1151.23" y2="1594.5" stroke="#000" stroke-width="2.6" stroke-linecap="butt"/>
<line x1="1210.66" y1="1583.5" x2="1210.66" y2="1605" stroke="#000" stroke-width="2.6" stroke-linecap="butt"/>
<line x1="1270.09" y1="1583.5" x2="1270.09" y2="1594.5" stroke="#000" stroke-width="2.6" stroke-linecap="butt"/>
<line x1="1329.52" y1="1583.5" x2="1329.52" y2="1594.5" stroke="#000" stroke-width="2.6" stroke-linecap="butt"/>
<line x1="1388.95" y1="1583.5" x2="1388.95" y2="1594.5" stroke="#000" stroke-width="2.6" stroke-linecap="butt"/>
<line x1="1448.38" y1="1583.5" x2="1448.38" y2="1605" stroke="#000" stroke-width="2.6" stroke-linecap="butt"/>
<line x1="1507.81" y1="1583.5" x2="1507.81" y2="1594.5" stroke="#000" stroke-width="2.6" stroke-linecap="butt"/>
<line x1="1567.24" y1="1583.5" x2="1567.24" y2="1594.5" stroke="#000" stroke-width="2.6" stroke-linecap="butt"/>
<line x1="1626.67" y1="1583.5" x2="1626.67" y2="1594.5" stroke="#000" stroke-width="2.6" stroke-linecap="butt"/>
<line x1="1686.1" y1="1583.5" x2="1686.1" y2="1605" stroke="#000" stroke-width="2.6" stroke-linecap="butt"/>
<line x1="1745.53" y1="1583.5" x2="1745.53" y2="1594.5" stroke="#000" stroke-width="2.6" stroke-linecap="butt"/>
<line x1="1804.96" y1="1583.5" x2="1804.96" y2="1594.5" stroke="#000" stroke-width="2.6" stroke-linecap="butt"/>
<line x1="1864.39" y1="1583.5" x2="1864.39" y2="1594.5" stroke="#000" stroke-width="2.6" stroke-linecap="butt"/>
<line x1="1923.82" y1="1583.5" x2="1923.82" y2="1605" stroke="#000" stroke-width="2.6" stroke-linecap="butt"/>
<line x1="1983.25" y1="1583.5" x2="1983.25" y2="1594.5" stroke="#000" stroke-width="2.6" stroke-linecap="butt"/>
<line x1="2042.68" y1="1583.5" x2="2042.68" y2="1594.5" stroke="#000" stroke-width="2.6" stroke-linecap="butt"/>
<text transform="translate(481.56,1653.5) scale(1.04,1)" style="font-size:46.5px;font-weight:normal;letter-spacing:1.4px" fill="#1a1a1a">0</text>
<text transform="translate(704.47,1653.5) scale(1.04,1)" style="font-size:46.5px;font-weight:normal;letter-spacing:1.4px" fill="#1a1a1a"><tspan dx="-2.33" style="font-family:NanumGothic,'Liberation Sans',sans-serif;font-size:43.06px;stroke:#1a1a1a;stroke-width:0.9px">1</tspan><tspan dx="2.33">2</tspan></text>
<text transform="translate(942.31,1653.5) scale(1.04,1)" style="font-size:46.5px;font-weight:normal;letter-spacing:1.4px" fill="#1a1a1a">24</text>
<text transform="translate(1180.69,1653.5) scale(1.04,1)" style="font-size:46.5px;font-weight:normal;letter-spacing:1.4px" fill="#1a1a1a">36</text>
<text transform="translate(1418.74,1653.5) scale(1.04,1)" style="font-size:46.5px;font-weight:normal;letter-spacing:1.4px" fill="#1a1a1a">48</text>
<text transform="translate(1655.69,1653.5) scale(1.04,1)" style="font-size:46.5px;font-weight:normal;letter-spacing:1.4px" fill="#1a1a1a">60</text>
<text transform="translate(1893.68,1653.5) scale(1.04,1)" style="font-size:46.5px;font-weight:normal;letter-spacing:1.4px" fill="#1a1a1a">72</text>
<line x1="356.7" y1="1583.5" x2="378.2" y2="1583.5" stroke="#000" stroke-width="2.6" stroke-linecap="butt"/>
<line x1="367.2" y1="1556.18" x2="378.2" y2="1556.18" stroke="#000" stroke-width="2.6" stroke-linecap="butt"/>
<line x1="367.2" y1="1528.86" x2="378.2" y2="1528.86" stroke="#000" stroke-width="2.6" stroke-linecap="butt"/>
<line x1="367.2" y1="1501.54" x2="378.2" y2="1501.54" stroke="#000" stroke-width="2.6" stroke-linecap="butt"/>
<line x1="367.2" y1="1474.22" x2="378.2" y2="1474.22" stroke="#000" stroke-width="2.6" stroke-linecap="butt"/>
<text transform="translate(266.66,1596.7) scale(1.04,1)" style="font-size:46px;font-weight:normal;letter-spacing:1.3px" fill="#1a1a1a">0.0</text>
<line x1="356.7" y1="1446.9" x2="378.2" y2="1446.9" stroke="#000" stroke-width="2.6" stroke-linecap="butt"/>
<line x1="367.2" y1="1419.58" x2="378.2" y2="1419.58" stroke="#000" stroke-width="2.6" stroke-linecap="butt"/>
<line x1="367.2" y1="1392.26" x2="378.2" y2="1392.26" stroke="#000" stroke-width="2.6" stroke-linecap="butt"/>
<line x1="367.2" y1="1364.94" x2="378.2" y2="1364.94" stroke="#000" stroke-width="2.6" stroke-linecap="butt"/>
<line x1="367.2" y1="1337.62" x2="378.2" y2="1337.62" stroke="#000" stroke-width="2.6" stroke-linecap="butt"/>
<text transform="translate(266.66,1460.1) scale(1.04,1)" style="font-size:46px;font-weight:normal;letter-spacing:1.3px" fill="#1a1a1a"><tspan dx="-2.3" style="font-family:NanumGothic,'Liberation Sans',sans-serif;font-size:42.6px;stroke:#1a1a1a;stroke-width:0.9px">1</tspan><tspan dx="2.3">.</tspan>0</text>
<line x1="356.7" y1="1310.3" x2="378.2" y2="1310.3" stroke="#000" stroke-width="2.6" stroke-linecap="butt"/>
<line x1="367.2" y1="1282.98" x2="378.2" y2="1282.98" stroke="#000" stroke-width="2.6" stroke-linecap="butt"/>
<line x1="367.2" y1="1255.66" x2="378.2" y2="1255.66" stroke="#000" stroke-width="2.6" stroke-linecap="butt"/>
<line x1="367.2" y1="1228.34" x2="378.2" y2="1228.34" stroke="#000" stroke-width="2.6" stroke-linecap="butt"/>
<line x1="367.2" y1="1201.02" x2="378.2" y2="1201.02" stroke="#000" stroke-width="2.6" stroke-linecap="butt"/>
<text transform="translate(266.66,1323.5) scale(1.04,1)" style="font-size:46px;font-weight:normal;letter-spacing:1.3px" fill="#1a1a1a">2.0</text>
<line x1="356.7" y1="1173.7" x2="378.2" y2="1173.7" stroke="#000" stroke-width="2.6" stroke-linecap="butt"/>
<line x1="367.2" y1="1146.38" x2="378.2" y2="1146.38" stroke="#000" stroke-width="2.6" stroke-linecap="butt"/>
<line x1="367.2" y1="1119.06" x2="378.2" y2="1119.06" stroke="#000" stroke-width="2.6" stroke-linecap="butt"/>
<line x1="367.2" y1="1091.74" x2="378.2" y2="1091.74" stroke="#000" stroke-width="2.6" stroke-linecap="butt"/>
<line x1="367.2" y1="1064.42" x2="378.2" y2="1064.42" stroke="#000" stroke-width="2.6" stroke-linecap="butt"/>
<text transform="translate(266.66,1186.9) scale(1.04,1)" style="font-size:46px;font-weight:normal;letter-spacing:1.3px" fill="#1a1a1a">3.0</text>
<line x1="356.7" y1="1037.1" x2="378.2" y2="1037.1" stroke="#000" stroke-width="2.6" stroke-linecap="butt"/>
<line x1="367.2" y1="1009.78" x2="378.2" y2="1009.78" stroke="#000" stroke-width="2.6" stroke-linecap="butt"/>
<line x1="367.2" y1="982.46" x2="378.2" y2="982.46" stroke="#000" stroke-width="2.6" stroke-linecap="butt"/>
<line x1="367.2" y1="955.14" x2="378.2" y2="955.14" stroke="#000" stroke-width="2.6" stroke-linecap="butt"/>
<line x1="367.2" y1="927.82" x2="378.2" y2="927.82" stroke="#000" stroke-width="2.6" stroke-linecap="butt"/>
<text transform="translate(266.66,1050.3) scale(1.04,1)" style="font-size:46px;font-weight:normal;letter-spacing:1.3px" fill="#1a1a1a">4.0</text>
<line x1="356.7" y1="900.5" x2="378.2" y2="900.5" stroke="#000" stroke-width="2.6" stroke-linecap="butt"/>
<text transform="translate(266.66,913.7) scale(1.04,1)" style="font-size:46px;font-weight:normal;letter-spacing:1.3px" fill="#1a1a1a">5.0</text>
<line x1="2042.8" y1="1583.5" x2="2064.3" y2="1583.5" stroke="#000" stroke-width="2.6" stroke-linecap="butt"/>
<line x1="2042.8" y1="1549.35" x2="2053.8" y2="1549.35" stroke="#000" stroke-width="2.6" stroke-linecap="butt"/>
<line x1="2042.8" y1="1515.2" x2="2053.8" y2="1515.2" stroke="#000" stroke-width="2.6" stroke-linecap="butt"/>
<line x1="2042.8" y1="1481.05" x2="2053.8" y2="1481.05" stroke="#000" stroke-width="2.6" stroke-linecap="butt"/>
<line x1="2042.8" y1="1446.9" x2="2053.8" y2="1446.9" stroke="#000" stroke-width="2.6" stroke-linecap="butt"/>
<text transform="translate(2076.5,1596.7) scale(1.04,1)" style="font-size:46px;font-weight:normal;letter-spacing:1.3px" fill="#1a1a1a">0.0</text>
<line x1="2042.8" y1="1412.75" x2="2064.3" y2="1412.75" stroke="#000" stroke-width="2.6" stroke-linecap="butt"/>
<line x1="2042.8" y1="1378.6" x2="2053.8" y2="1378.6" stroke="#000" stroke-width="2.6" stroke-linecap="butt"/>
<line x1="2042.8" y1="1344.45" x2="2053.8" y2="1344.45" stroke="#000" stroke-width="2.6" stroke-linecap="butt"/>
<line x1="2042.8" y1="1310.3" x2="2053.8" y2="1310.3" stroke="#000" stroke-width="2.6" stroke-linecap="butt"/>
<line x1="2042.8" y1="1276.15" x2="2053.8" y2="1276.15" stroke="#000" stroke-width="2.6" stroke-linecap="butt"/>
<text transform="translate(2076.5,1425.95) scale(1.04,1)" style="font-size:46px;font-weight:normal;letter-spacing:1.3px" fill="#1a1a1a">0.5</text>
<line x1="2042.8" y1="1242" x2="2064.3" y2="1242" stroke="#000" stroke-width="2.6" stroke-linecap="butt"/>
<line x1="2042.8" y1="1207.85" x2="2053.8" y2="1207.85" stroke="#000" stroke-width="2.6" stroke-linecap="butt"/>
<line x1="2042.8" y1="1173.7" x2="2053.8" y2="1173.7" stroke="#000" stroke-width="2.6" stroke-linecap="butt"/>
<line x1="2042.8" y1="1139.55" x2="2053.8" y2="1139.55" stroke="#000" stroke-width="2.6" stroke-linecap="butt"/>
<line x1="2042.8" y1="1105.4" x2="2053.8" y2="1105.4" stroke="#000" stroke-width="2.6" stroke-linecap="butt"/>
<text transform="translate(2076.5,1255.2) scale(1.04,1)" style="font-size:46px;font-weight:normal;letter-spacing:1.3px" fill="#1a1a1a"><tspan dx="-2.3" style="font-family:NanumGothic,'Liberation Sans',sans-serif;font-size:42.6px;stroke:#1a1a1a;stroke-width:0.9px">1</tspan><tspan dx="2.3">.</tspan>0</text>
<line x1="2042.8" y1="1071.25" x2="2064.3" y2="1071.25" stroke="#000" stroke-width="2.6" stroke-linecap="butt"/>
<line x1="2042.8" y1="1037.1" x2="2053.8" y2="1037.1" stroke="#000" stroke-width="2.6" stroke-linecap="butt"/>
<line x1="2042.8" y1="1002.95" x2="2053.8" y2="1002.95" stroke="#000" stroke-width="2.6" stroke-linecap="butt"/>
<line x1="2042.8" y1="968.8" x2="2053.8" y2="968.8" stroke="#000" stroke-width="2.6" stroke-linecap="butt"/>
<line x1="2042.8" y1="934.65" x2="2053.8" y2="934.65" stroke="#000" stroke-width="2.6" stroke-linecap="butt"/>
<text transform="translate(2076.5,1084.45) scale(1.04,1)" style="font-size:46px;font-weight:normal;letter-spacing:1.3px" fill="#1a1a1a"><tspan dx="-2.3" style="font-family:NanumGothic,'Liberation Sans',sans-serif;font-size:42.6px;stroke:#1a1a1a;stroke-width:0.9px">1</tspan><tspan dx="2.3">.</tspan>5</text>
<line x1="2042.8" y1="900.5" x2="2064.3" y2="900.5" stroke="#000" stroke-width="2.6" stroke-linecap="butt"/>
<text transform="translate(2076.5,913.7) scale(1.04,1)" style="font-size:46px;font-weight:normal;letter-spacing:1.3px" fill="#1a1a1a">2.0</text>
<text transform="translate(433.69,1006) scale(1.06,1)" style="font-size:69.5px;font-weight:normal;letter-spacing:4.79px" fill="#1a1a1a">b)</text>
<text transform="translate(520.16,1006) scale(1.06,1)" style="font-size:69.5px;font-weight:normal;letter-spacing:1.59px" fill="#1a1a1a">FECAL</text>
<line x1="552.85" y1="1221.67" x2="560.25" y2="1217.53" stroke="#d81e1e" stroke-width="2.4" stroke-linecap="butt"/>
<line x1="593.15" y1="1216.36" x2="639.35" y2="1238.04" stroke="#d81e1e" stroke-width="2.4" stroke-linecap="butt"/>
<line x1="674.57" y1="1244.91" x2="716.33" y2="1242.69" stroke="#d81e1e" stroke-width="2.4" stroke-linecap="butt"/>
<line x1="752.9" y1="1237.88" x2="795.9" y2="1228.82" stroke="#d81e1e" stroke-width="2.4" stroke-linecap="butt"/>
<line x1="831.62" y1="1219.35" x2="874.98" y2="1205.45" stroke="#d81e1e" stroke-width="2.4" stroke-linecap="butt"/>
<line x1="910.7" y1="1203.61" x2="954.4" y2="1212.79" stroke="#d81e1e" stroke-width="2.4" stroke-linecap="butt"/>
<line x1="990.94" y1="1218.07" x2="1191.86" y2="1234.13" stroke="#d81e1e" stroke-width="2.4" stroke-linecap="butt"/>
<line x1="1228.6" y1="1238.31" x2="1429.4" y2="1267.99" stroke="#d81e1e" stroke-width="2.4" stroke-linecap="butt"/>
<line x1="1466.2" y1="1270.83" x2="1666.6" y2="1272.27" stroke="#d81e1e" stroke-width="2.4" stroke-linecap="butt"/>
<line x1="1703.4" y1="1275.12" x2="1904.9" y2="1305.08" stroke="#d81e1e" stroke-width="2.4" stroke-linecap="butt"/>
<line x1="1923.2" y1="1288.6" x2="1923.2" y2="1325" stroke="#ff0000" stroke-width="2.8" stroke-linecap="butt"/>
<line x1="1916.2" y1="1288.6" x2="1930.2" y2="1288.6" stroke="#ff0000" stroke-width="2.8" stroke-linecap="butt"/>
<line x1="1916.2" y1="1325" x2="1930.2" y2="1325" stroke="#ff0000" stroke-width="2.8" stroke-linecap="butt"/>
<polygon points="542.5,1215 542.5,1217.5 546,1217.5 546,1220.5 549.5,1220.5 549.5,1227 553.1,1227 553.1,1232.4 549.5,1232.4 549.5,1238.9 546,1238.9 546,1241.9 542.5,1241.9 542.5,1244.4 530.9,1244.4 530.9,1241.9 527.4,1241.9 527.4,1238.9 523.9,1238.9 523.9,1232.4 520.3,1232.4 520.3,1227 523.9,1227 523.9,1220.5 527.4,1220.5 527.4,1217.5 530.9,1217.5 530.9,1215" fill="#ff0000"/>
<polygon points="582.2,1192.8 582.2,1195.3 585.7,1195.3 585.7,1198.3 589.2,1198.3 589.2,1204.8 592.8,1204.8 592.8,1210.2 589.2,1210.2 589.2,1216.7 585.7,1216.7 585.7,1219.7 582.2,1219.7 582.2,1222.2 570.6,1222.2 570.6,1219.7 567.1,1219.7 567.1,1216.7 563.6,1216.7 563.6,1210.2 560,1210.2 560,1204.8 563.6,1204.8 563.6,1198.3 567.1,1198.3 567.1,1195.3 570.6,1195.3 570.6,1192.8" fill="#ff0000"/>
<polygon points="661.9,1230.2 661.9,1232.7 665.4,1232.7 665.4,1235.7 668.9,1235.7 668.9,1242.2 672.5,1242.2 672.5,1247.6 668.9,1247.6 668.9,1254.1 665.4,1254.1 665.4,1257.1 661.9,1257.1 661.9,1259.6 650.3,1259.6 650.3,1257.1 646.8,1257.1 646.8,1254.1 643.3,1254.1 643.3,1247.6 639.7,1247.6 639.7,1242.2 643.3,1242.2 643.3,1235.7 646.8,1235.7 646.8,1232.7 650.3,1232.7 650.3,1230.2" fill="#ff0000"/>
<polygon points="740.6,1226 740.6,1228.5 744.1,1228.5 744.1,1231.5 747.6,1231.5 747.6,1238 751.2,1238 751.2,1243.4 747.6,1243.4 747.6,1249.9 744.1,1249.9 744.1,1252.9 740.6,1252.9 740.6,1255.4 729,1255.4 729,1252.9 725.5,1252.9 725.5,1249.9 722,1249.9 722,1243.4 718.4,1243.4 718.4,1238 722,1238 722,1231.5 725.5,1231.5 725.5,1228.5 729,1228.5 729,1226" fill="#ff0000"/>
<polygon points="819.8,1209.3 819.8,1211.8 823.3,1211.8 823.3,1214.8 826.8,1214.8 826.8,1221.3 830.4,1221.3 830.4,1226.7 826.8,1226.7 826.8,1233.2 823.3,1233.2 823.3,1236.2 819.8,1236.2 819.8,1238.7 808.2,1238.7 808.2,1236.2 804.7,1236.2 804.7,1233.2 801.2,1233.2 801.2,1226.7 797.6,1226.7 797.6,1221.3 801.2,1221.3 801.2,1214.8 804.7,1214.8 804.7,1211.8 808.2,1211.8 808.2,1209.3" fill="#ff0000"/>
<polygon points="898.4,1184.1 898.4,1186.6 901.9,1186.6 901.9,1189.6 905.4,1189.6 905.4,1196.1 909,1196.1 909,1201.5 905.4,1201.5 905.4,1208 901.9,1208 901.9,1211 898.4,1211 898.4,1213.5 886.8,1213.5 886.8,1211 883.3,1211 883.3,1208 879.8,1208 879.8,1201.5 876.2,1201.5 876.2,1196.1 879.8,1196.1 879.8,1189.6 883.3,1189.6 883.3,1186.6 886.8,1186.6 886.8,1184.1" fill="#ff0000"/>
<polygon points="978.3,1200.9 978.3,1203.4 981.8,1203.4 981.8,1206.4 985.3,1206.4 985.3,1212.9 988.9,1212.9 988.9,1218.3 985.3,1218.3 985.3,1224.8 981.8,1224.8 981.8,1227.8 978.3,1227.8 978.3,1230.3 966.7,1230.3 966.7,1227.8 963.2,1227.8 963.2,1224.8 959.7,1224.8 959.7,1218.3 956.1,1218.3 956.1,1212.9 959.7,1212.9 959.7,1206.4 963.2,1206.4 963.2,1203.4 966.7,1203.4 966.7,1200.9" fill="#ff0000"/>
<polygon points="1216.1,1219.9 1216.1,1222.4 1219.6,1222.4 1219.6,1225.4 1223.1,1225.4 1223.1,1231.9 1226.7,1231.9 1226.7,1237.3 1223.1,1237.3 1223.1,1243.8 1219.6,1243.8 1219.6,1246.8 1216.1,1246.8 1216.1,1249.3 1204.5,1249.3 1204.5,1246.8 1201,1246.8 1201,1243.8 1197.5,1243.8 1197.5,1237.3 1193.9,1237.3 1193.9,1231.9 1197.5,1231.9 1197.5,1225.4 1201,1225.4 1201,1222.4 1204.5,1222.4 1204.5,1219.9" fill="#ff0000"/>
<polygon points="1453.5,1255 1453.5,1257.5 1457,1257.5 1457,1260.5 1460.5,1260.5 1460.5,1267 1464.1,1267 1464.1,1272.4 1460.5,1272.4 1460.5,1278.9 1457,1278.9 1457,1281.9 1453.5,1281.9 1453.5,1284.4 1441.9,1284.4 1441.9,1281.9 1438.4,1281.9 1438.4,1278.9 1434.9,1278.9 1434.9,1272.4 1431.3,1272.4 1431.3,1267 1434.9,1267 1434.9,1260.5 1438.4,1260.5 1438.4,1257.5 1441.9,1257.5 1441.9,1255" fill="#ff0000"/>
<polygon points="1690.9,1256.7 1690.9,1259.2 1694.4,1259.2 1694.4,1262.2 1697.9,1262.2 1697.9,1268.7 1701.5,1268.7 1701.5,1274.1 1697.9,1274.1 1697.9,1280.6 1694.4,1280.6 1694.4,1283.6 1690.9,1283.6 1690.9,1286.1 1679.3,1286.1 1679.3,1283.6 1675.8,1283.6 1675.8,1280.6 1672.3,1280.6 1672.3,1274.1 1668.7,1274.1 1668.7,1268.7 1672.3,1268.7 1672.3,1262.2 1675.8,1262.2 1675.8,1259.2 1679.3,1259.2 1679.3,1256.7" fill="#ff0000"/>
<polygon points="1929,1292.1 1929,1294.6 1932.5,1294.6 1932.5,1297.6 1936,1297.6 1936,1304.1 1939.6,1304.1 1939.6,1309.5 1936,1309.5 1936,1316 1932.5,1316 1932.5,1319 1929,1319 1929,1321.5 1917.4,1321.5 1917.4,1319 1913.9,1319 1913.9,1316 1910.4,1316 1910.4,1309.5 1906.8,1309.5 1906.8,1304.1 1910.4,1304.1 1910.4,1297.6 1913.9,1297.6 1913.9,1294.6 1917.4,1294.6 1917.4,1292.1" fill="#ff0000"/>
<line x1="548.28" y1="1305.67" x2="564.22" y2="1285.83" stroke="#1e1ed8" stroke-width="2.4" stroke-linecap="butt"/>
<line x1="594.25" y1="1272.78" x2="637.65" y2="1276.02" stroke="#1e1ed8" stroke-width="2.4" stroke-linecap="butt"/>
<line x1="672.55" y1="1268.94" x2="718.45" y2="1245.36" stroke="#1e1ed8" stroke-width="2.4" stroke-linecap="butt"/>
<line x1="753.28" y1="1238.99" x2="795.62" y2="1243.81" stroke="#1e1ed8" stroke-width="2.4" stroke-linecap="butt"/>
<line x1="832.23" y1="1249.08" x2="874.37" y2="1256.42" stroke="#1e1ed8" stroke-width="2.4" stroke-linecap="butt"/>
<line x1="908.61" y1="1250.32" x2="956.99" y2="1222.28" stroke="#1e1ed8" stroke-width="2.4" stroke-linecap="butt"/>
<line x1="991.32" y1="1210.43" x2="1191.98" y2="1182.27" stroke="#1e1ed8" stroke-width="2.4" stroke-linecap="butt"/>
<line x1="1228.74" y1="1181.24" x2="1429.26" y2="1197.96" stroke="#1e1ed8" stroke-width="2.4" stroke-linecap="butt"/>
<line x1="1465.87" y1="1196" x2="1666.93" y2="1157.3" stroke="#1e1ed8" stroke-width="2.4" stroke-linecap="butt"/>
<line x1="1703.33" y1="1156.92" x2="1904.97" y2="1191.48" stroke="#1e1ed8" stroke-width="2.4" stroke-linecap="butt"/>
<line x1="656.1" y1="1252.3" x2="656.1" y2="1302.2" stroke="#0000ff" stroke-width="2.8" stroke-linecap="butt"/>
<line x1="649.1" y1="1252.3" x2="663.1" y2="1252.3" stroke="#0000ff" stroke-width="2.8" stroke-linecap="butt"/>
<line x1="649.1" y1="1302.2" x2="663.1" y2="1302.2" stroke="#0000ff" stroke-width="2.8" stroke-linecap="butt"/>
<line x1="892.6" y1="1238.6" x2="892.6" y2="1279.1" stroke="#0000ff" stroke-width="2.8" stroke-linecap="butt"/>
<line x1="885.6" y1="1238.6" x2="899.6" y2="1238.6" stroke="#0000ff" stroke-width="2.8" stroke-linecap="butt"/>
<line x1="885.6" y1="1279.1" x2="899.6" y2="1279.1" stroke="#0000ff" stroke-width="2.8" stroke-linecap="butt"/>
<line x1="1923.2" y1="1186" x2="1923.2" y2="1209" stroke="#0000ff" stroke-width="2.8" stroke-linecap="butt"/>
<line x1="1916.2" y1="1186" x2="1930.2" y2="1186" stroke="#0000ff" stroke-width="2.8" stroke-linecap="butt"/>
<line x1="1916.2" y1="1209" x2="1930.2" y2="1209" stroke="#0000ff" stroke-width="2.8" stroke-linecap="butt"/>
<polygon points="542.5,1304.4 542.5,1306.9 546,1306.9 546,1309.9 549.5,1309.9 549.5,1316.4 553.1,1316.4 553.1,1321.8 549.5,1321.8 549.5,1328.3 546,1328.3 546,1331.3 542.5,1331.3 542.5,1333.8 530.9,1333.8 530.9,1331.3 527.4,1331.3 527.4,1328.3 523.9,1328.3 523.9,1321.8 520.3,1321.8 520.3,1316.4 523.9,1316.4 523.9,1309.9 527.4,1309.9 527.4,1306.9 530.9,1306.9 530.9,1304.4" fill="#0000ff"/>
<polygon points="581.6,1255.7 581.6,1258.2 585.1,1258.2 585.1,1261.2 588.6,1261.2 588.6,1267.7 592.2,1267.7 592.2,1273.1 588.6,1273.1 588.6,1279.6 585.1,1279.6 585.1,1282.6 581.6,1282.6 581.6,1285.1 570,1285.1 570,1282.6 566.5,1282.6 566.5,1279.6 563,1279.6 563,1273.1 559.4,1273.1 559.4,1267.7 563,1267.7 563,1261.2 566.5,1261.2 566.5,1258.2 570,1258.2 570,1255.7" fill="#0000ff"/>
<polygon points="661.9,1261.7 661.9,1264.2 665.4,1264.2 665.4,1267.2 668.9,1267.2 668.9,1273.7 672.5,1273.7 672.5,1279.1 668.9,1279.1 668.9,1285.6 665.4,1285.6 665.4,1288.6 661.9,1288.6 661.9,1291.1 650.3,1291.1 650.3,1288.6 646.8,1288.6 646.8,1285.6 643.3,1285.6 643.3,1279.1 639.7,1279.1 639.7,1273.7 643.3,1273.7 643.3,1267.2 646.8,1267.2 646.8,1264.2 650.3,1264.2 650.3,1261.7" fill="#0000ff"/>
<polygon points="740.7,1221.2 740.7,1223.7 744.2,1223.7 744.2,1226.7 747.7,1226.7 747.7,1233.2 751.3,1233.2 751.3,1238.6 747.7,1238.6 747.7,1245.1 744.2,1245.1 744.2,1248.1 740.7,1248.1 740.7,1250.6 729.1,1250.6 729.1,1248.1 725.6,1248.1 725.6,1245.1 722.1,1245.1 722.1,1238.6 718.5,1238.6 718.5,1233.2 722.1,1233.2 722.1,1226.7 725.6,1226.7 725.6,1223.7 729.1,1223.7 729.1,1221.2" fill="#0000ff"/>
<polygon points="819.8,1230.2 819.8,1232.7 823.3,1232.7 823.3,1235.7 826.8,1235.7 826.8,1242.2 830.4,1242.2 830.4,1247.6 826.8,1247.6 826.8,1254.1 823.3,1254.1 823.3,1257.1 819.8,1257.1 819.8,1259.6 808.2,1259.6 808.2,1257.1 804.7,1257.1 804.7,1254.1 801.2,1254.1 801.2,1247.6 797.6,1247.6 797.6,1242.2 801.2,1242.2 801.2,1235.7 804.7,1235.7 804.7,1232.7 808.2,1232.7 808.2,1230.2" fill="#0000ff"/>
<polygon points="898.4,1243.9 898.4,1246.4 901.9,1246.4 901.9,1249.4 905.4,1249.4 905.4,1255.9 909,1255.9 909,1261.3 905.4,1261.3 905.4,1267.8 901.9,1267.8 901.9,1270.8 898.4,1270.8 898.4,1273.3 886.8,1273.3 886.8,1270.8 883.3,1270.8 883.3,1267.8 879.8,1267.8 879.8,1261.3 876.2,1261.3 876.2,1255.9 879.8,1255.9 879.8,1249.4 883.3,1249.4 883.3,1246.4 886.8,1246.4 886.8,1243.9" fill="#0000ff"/>
<polygon points="978.8,1197.3 978.8,1199.8 982.3,1199.8 982.3,1202.8 985.8,1202.8 985.8,1209.3 989.4,1209.3 989.4,1214.7 985.8,1214.7 985.8,1221.2 982.3,1221.2 982.3,1224.2 978.8,1224.2 978.8,1226.7 967.2,1226.7 967.2,1224.2 963.7,1224.2 963.7,1221.2 960.2,1221.2 960.2,1214.7 956.6,1214.7 956.6,1209.3 960.2,1209.3 960.2,1202.8 963.7,1202.8 963.7,1199.8 967.2,1199.8 967.2,1197.3" fill="#0000ff"/>
<polygon points="1216.1,1164 1216.1,1166.5 1219.6,1166.5 1219.6,1169.5 1223.1,1169.5 1223.1,1176 1226.7,1176 1226.7,1181.4 1223.1,1181.4 1223.1,1187.9 1219.6,1187.9 1219.6,1190.9 1216.1,1190.9 1216.1,1193.4 1204.5,1193.4 1204.5,1190.9 1201,1190.9 1201,1187.9 1197.5,1187.9 1197.5,1181.4 1193.9,1181.4 1193.9,1176 1197.5,1176 1197.5,1169.5 1201,1169.5 1201,1166.5 1204.5,1166.5 1204.5,1164" fill="#0000ff"/>
<polygon points="1453.5,1183.8 1453.5,1186.3 1457,1186.3 1457,1189.3 1460.5,1189.3 1460.5,1195.8 1464.1,1195.8 1464.1,1201.2 1460.5,1201.2 1460.5,1207.7 1457,1207.7 1457,1210.7 1453.5,1210.7 1453.5,1213.2 1441.9,1213.2 1441.9,1210.7 1438.4,1210.7 1438.4,1207.7 1434.9,1207.7 1434.9,1201.2 1431.3,1201.2 1431.3,1195.8 1434.9,1195.8 1434.9,1189.3 1438.4,1189.3 1438.4,1186.3 1441.9,1186.3 1441.9,1183.8" fill="#0000ff"/>
<polygon points="1690.9,1138.1 1690.9,1140.6 1694.4,1140.6 1694.4,1143.6 1697.9,1143.6 1697.9,1150.1 1701.5,1150.1 1701.5,1155.5 1697.9,1155.5 1697.9,1162 1694.4,1162 1694.4,1165 1690.9,1165 1690.9,1167.5 1679.3,1167.5 1679.3,1165 1675.8,1165 1675.8,1162 1672.3,1162 1672.3,1155.5 1668.7,1155.5 1668.7,1150.1 1672.3,1150.1 1672.3,1143.6 1675.8,1143.6 1675.8,1140.6 1679.3,1140.6 1679.3,1138.1" fill="#0000ff"/>
<polygon points="1929,1178.9 1929,1181.4 1932.5,1181.4 1932.5,1184.4 1936,1184.4 1936,1190.9 1939.6,1190.9 1939.6,1196.3 1936,1196.3 1936,1202.8 1932.5,1202.8 1932.5,1205.8 1929,1205.8 1929,1208.3 1917.4,1208.3 1917.4,1205.8 1913.9,1205.8 1913.9,1202.8 1910.4,1202.8 1910.4,1196.3 1906.8,1196.3 1906.8,1190.9 1910.4,1190.9 1910.4,1184.4 1913.9,1184.4 1913.9,1181.4 1917.4,1181.4 1917.4,1178.9" fill="#0000ff"/>
<line x1="1735.6" y1="1433.5" x2="1776.9" y2="1433.5" stroke="#d81e1e" stroke-width="2.5" stroke-linecap="butt"/>
<line x1="1810.9" y1="1433.5" x2="1848.2" y2="1433.5" stroke="#d81e1e" stroke-width="2.5" stroke-linecap="butt"/>
<polygon points="1799.5,1419.31 1799.5,1421.72 1802.88,1421.72 1802.88,1424.62 1806.26,1424.62 1806.26,1430.89 1809.73,1430.89 1809.73,1436.11 1806.26,1436.11 1806.26,1442.38 1802.88,1442.38 1802.88,1445.28 1799.5,1445.28 1799.5,1447.69 1788.3,1447.69 1788.3,1445.28 1784.92,1445.28 1784.92,1442.38 1781.54,1442.38 1781.54,1436.11 1778.07,1436.11 1778.07,1430.89 1781.54,1430.89 1781.54,1424.62 1784.92,1424.62 1784.92,1421.72 1788.3,1421.72 1788.3,1419.31" fill="#ff0000"/>
<text transform="translate(1848.66,1449) scale(1.04,1)" style="font-size:46px;font-weight:normal;letter-spacing:0.63px" fill="#1a1a1a"><tspan dx="-2.3" style="font-family:NanumGothic,'Liberation Sans',sans-serif;font-size:42.6px;stroke:#1a1a1a;stroke-width:0.9px">1</tspan><tspan dx="2.3">3</tspan>C</text>
<line x1="1735.6" y1="1490.6" x2="1776.9" y2="1490.6" stroke="#1e1ed8" stroke-width="2.5" stroke-linecap="butt"/>
<line x1="1810.9" y1="1490.6" x2="1848.2" y2="1490.6" stroke="#1e1ed8" stroke-width="2.5" stroke-linecap="butt"/>
<polygon points="1799.5,1476.41 1799.5,1478.82 1802.88,1478.82 1802.88,1481.72 1806.26,1481.72 1806.26,1487.99 1809.73,1487.99 1809.73,1493.21 1806.26,1493.21 1806.26,1499.48 1802.88,1499.48 1802.88,1502.38 1799.5,1502.38 1799.5,1504.79 1788.3,1504.79 1788.3,1502.38 1784.92,1502.38 1784.92,1499.48 1781.54,1499.48 1781.54,1493.21 1778.07,1493.21 1778.07,1487.99 1781.54,1487.99 1781.54,1481.72 1784.92,1481.72 1784.92,1478.82 1788.3,1478.82 1788.3,1476.41" fill="#0000ff"/>
<text transform="translate(1848.66,1505) scale(1.04,1)" style="font-size:46px;font-weight:normal;letter-spacing:1.61px" fill="#1a1a1a"><tspan dx="-2.3" style="font-family:NanumGothic,'Liberation Sans',sans-serif;font-size:42.6px;stroke:#1a1a1a;stroke-width:0.9px">1</tspan><tspan dx="2.3">5</tspan>N</text>
<line x1="377.3" y1="1686.2" x2="2034.9" y2="1686.2" stroke="#000" stroke-width="2.8" stroke-linecap="butt"/>
<line x1="377.3" y1="2371" x2="2034.9" y2="2371" stroke="#000" stroke-width="2.8" stroke-linecap="butt"/>
<line x1="378.7" y1="1684.8" x2="378.7" y2="2372.4" stroke="#000" stroke-width="2.8" stroke-linecap="butt"/>
<line x1="2032.6" y1="1684.8" x2="2032.6" y2="2372.4" stroke="#000" stroke-width="2.8" stroke-linecap="butt"/>
<line x1="378.7" y1="2371" x2="378.7" y2="2382" stroke="#000" stroke-width="2.6" stroke-linecap="butt"/>
<line x1="437.8" y1="2371" x2="437.8" y2="2382" stroke="#000" stroke-width="2.6" stroke-linecap="butt"/>
<line x1="496.9" y1="2371" x2="496.9" y2="2392.5" stroke="#000" stroke-width="2.6" stroke-linecap="butt"/>
<line x1="556" y1="2371" x2="556" y2="2382" stroke="#000" stroke-width="2.6" stroke-linecap="butt"/>
<line x1="615.1" y1="2371" x2="615.1" y2="2382" stroke="#000" stroke-width="2.6" stroke-linecap="butt"/>
<line x1="674.2" y1="2371" x2="674.2" y2="2382" stroke="#000" stroke-width="2.6" stroke-linecap="butt"/>
<line x1="733.3" y1="2371" x2="733.3" y2="2392.5" stroke="#000" stroke-width="2.6" stroke-linecap="butt"/>
<line x1="792.4" y1="2371" x2="792.4" y2="2382" stroke="#000" stroke-width="2.6" stroke-linecap="butt"/>
<line x1="851.5" y1="2371" x2="851.5" y2="2382" stroke="#000" stroke-width="2.6" stroke-linecap="butt"/>
<line x1="910.6" y1="2371" x2="910.6" y2="2382" stroke="#000" stroke-width="2.6" stroke-linecap="butt"/>
<line x1="969.7" y1="2371" x2="969.7" y2="2392.5" stroke="#000" stroke-width="2.6" stroke-linecap="butt"/>
<line x1="1028.8" y1="2371" x2="1028.8" y2="2382" stroke="#000" stroke-width="2.6" stroke-linecap="butt"/>
<line x1="1087.9" y1="2371" x2="1087.9" y2="2382" stroke="#000" stroke-width="2.6" stroke-linecap="butt"/>
<line x1="1147" y1="2371" x2="1147" y2="2382" stroke="#000" stroke-width="2.6" stroke-linecap="butt"/>
<line x1="1206.1" y1="2371" x2="1206.1" y2="2392.5" stroke="#000" stroke-width="2.6" stroke-linecap="butt"/>
<line x1="1265.2" y1="2371" x2="1265.2" y2="2382" stroke="#000" stroke-width="2.6" stroke-linecap="butt"/>
<line x1="1324.3" y1="2371" x2="1324.3" y2="2382" stroke="#000" stroke-width="2.6" stroke-linecap="butt"/>
<line x1="1383.4" y1="2371" x2="1383.4" y2="2382" stroke="#000" stroke-width="2.6" stroke-linecap="butt"/>
<line x1="1442.5" y1="2371" x2="1442.5" y2="2392.5" stroke="#000" stroke-width="2.6" stroke-linecap="butt"/>
<line x1="1501.6" y1="2371" x2="1501.6" y2="2382" stroke="#000" stroke-width="2.6" stroke-linecap="butt"/>
<line x1="1560.7" y1="2371" x2="1560.7" y2="2382" stroke="#000" stroke-width="2.6" stroke-linecap="butt"/>
<line x1="1619.8" y1="2371" x2="1619.8" y2="2382" stroke="#000" stroke-width="2.6" stroke-linecap="butt"/>
<line x1="1678.9" y1="2371" x2="1678.9" y2="2392.5" stroke="#000" stroke-width="2.6" stroke-linecap="butt"/>
<line x1="1738" y1="2371" x2="1738" y2="2382" stroke="#000" stroke-width="2.6" stroke-linecap="butt"/>
<line x1="1797.1" y1="2371" x2="1797.1" y2="2382" stroke="#000" stroke-width="2.6" stroke-linecap="butt"/>
<line x1="1856.2" y1="2371" x2="1856.2" y2="2382" stroke="#000" stroke-width="2.6" stroke-linecap="butt"/>
<line x1="1915.3" y1="2371" x2="1915.3" y2="2392.5" stroke="#000" stroke-width="2.6" stroke-linecap="butt"/>
<line x1="1974.4" y1="2371" x2="1974.4" y2="2382" stroke="#000" stroke-width="2.6" stroke-linecap="butt"/>
<line x1="2033.5" y1="2371" x2="2033.5" y2="2382" stroke="#000" stroke-width="2.6" stroke-linecap="butt"/>
<text transform="translate(480.46,2439) scale(1.04,1)" style="font-size:46.5px;font-weight:normal;letter-spacing:1.4px" fill="#1a1a1a">0</text>
<text transform="translate(702.05,2439) scale(1.04,1)" style="font-size:46.5px;font-weight:normal;letter-spacing:1.4px" fill="#1a1a1a"><tspan dx="-2.33" style="font-family:NanumGothic,'Liberation Sans',sans-serif;font-size:43.06px;stroke:#1a1a1a;stroke-width:0.9px">1</tspan><tspan dx="2.33">2</tspan></text>
<text transform="translate(938.57,2439) scale(1.04,1)" style="font-size:46.5px;font-weight:normal;letter-spacing:1.4px" fill="#1a1a1a">24</text>
<text transform="translate(1175.63,2439) scale(1.04,1)" style="font-size:46.5px;font-weight:normal;letter-spacing:1.4px" fill="#1a1a1a">36</text>
<text transform="translate(1412.36,2439) scale(1.04,1)" style="font-size:46.5px;font-weight:normal;letter-spacing:1.4px" fill="#1a1a1a">48</text>
<text transform="translate(1647.99,2439) scale(1.04,1)" style="font-size:46.5px;font-weight:normal;letter-spacing:1.4px" fill="#1a1a1a">60</text>
<text transform="translate(1884.66,2439) scale(1.04,1)" style="font-size:46.5px;font-weight:normal;letter-spacing:1.4px" fill="#1a1a1a">72</text>
<line x1="357.2" y1="2371" x2="378.7" y2="2371" stroke="#000" stroke-width="2.6" stroke-linecap="butt"/>
<line x1="367.7" y1="2343.61" x2="378.7" y2="2343.61" stroke="#000" stroke-width="2.6" stroke-linecap="butt"/>
<line x1="367.7" y1="2316.22" x2="378.7" y2="2316.22" stroke="#000" stroke-width="2.6" stroke-linecap="butt"/>
<line x1="367.7" y1="2288.82" x2="378.7" y2="2288.82" stroke="#000" stroke-width="2.6" stroke-linecap="butt"/>
<line x1="367.7" y1="2261.43" x2="378.7" y2="2261.43" stroke="#000" stroke-width="2.6" stroke-linecap="butt"/>
<text transform="translate(210.08,2383.2) scale(1.04,1)" style="font-size:46px;font-weight:normal;letter-spacing:1.7px" fill="#1a1a1a"><tspan dx="-2.3" style="font-family:NanumGothic,'Liberation Sans',sans-serif;font-size:42.6px;stroke:#1a1a1a;stroke-width:0.9px">1</tspan><tspan dx="2.3">.</tspan>080</text>
<line x1="357.2" y1="2234.04" x2="378.7" y2="2234.04" stroke="#000" stroke-width="2.6" stroke-linecap="butt"/>
<line x1="367.7" y1="2206.65" x2="378.7" y2="2206.65" stroke="#000" stroke-width="2.6" stroke-linecap="butt"/>
<line x1="367.7" y1="2179.26" x2="378.7" y2="2179.26" stroke="#000" stroke-width="2.6" stroke-linecap="butt"/>
<line x1="367.7" y1="2151.86" x2="378.7" y2="2151.86" stroke="#000" stroke-width="2.6" stroke-linecap="butt"/>
<line x1="367.7" y1="2124.47" x2="378.7" y2="2124.47" stroke="#000" stroke-width="2.6" stroke-linecap="butt"/>
<text transform="translate(210.23,2246.24) scale(1.04,1)" style="font-size:46px;font-weight:normal;letter-spacing:1.7px" fill="#1a1a1a"><tspan dx="-2.3" style="font-family:NanumGothic,'Liberation Sans',sans-serif;font-size:42.6px;stroke:#1a1a1a;stroke-width:0.9px">1</tspan><tspan dx="2.3">.</tspan>085</text>
<line x1="357.2" y1="2097.08" x2="378.7" y2="2097.08" stroke="#000" stroke-width="2.6" stroke-linecap="butt"/>
<line x1="367.7" y1="2069.69" x2="378.7" y2="2069.69" stroke="#000" stroke-width="2.6" stroke-linecap="butt"/>
<line x1="367.7" y1="2042.3" x2="378.7" y2="2042.3" stroke="#000" stroke-width="2.6" stroke-linecap="butt"/>
<line x1="367.7" y1="2014.9" x2="378.7" y2="2014.9" stroke="#000" stroke-width="2.6" stroke-linecap="butt"/>
<line x1="367.7" y1="1987.51" x2="378.7" y2="1987.51" stroke="#000" stroke-width="2.6" stroke-linecap="butt"/>
<text transform="translate(210.08,2109.28) scale(1.04,1)" style="font-size:46px;font-weight:normal;letter-spacing:1.7px" fill="#1a1a1a"><tspan dx="-2.3" style="font-family:NanumGothic,'Liberation Sans',sans-serif;font-size:42.6px;stroke:#1a1a1a;stroke-width:0.9px">1</tspan><tspan dx="2.3">.</tspan>090</text>
<line x1="357.2" y1="1960.12" x2="378.7" y2="1960.12" stroke="#000" stroke-width="2.6" stroke-linecap="butt"/>
<line x1="367.7" y1="1932.73" x2="378.7" y2="1932.73" stroke="#000" stroke-width="2.6" stroke-linecap="butt"/>
<line x1="367.7" y1="1905.34" x2="378.7" y2="1905.34" stroke="#000" stroke-width="2.6" stroke-linecap="butt"/>
<line x1="367.7" y1="1877.94" x2="378.7" y2="1877.94" stroke="#000" stroke-width="2.6" stroke-linecap="butt"/>
<line x1="367.7" y1="1850.55" x2="378.7" y2="1850.55" stroke="#000" stroke-width="2.6" stroke-linecap="butt"/>
<text transform="translate(210.23,1972.32) scale(1.04,1)" style="font-size:46px;font-weight:normal;letter-spacing:1.7px" fill="#1a1a1a"><tspan dx="-2.3" style="font-family:NanumGothic,'Liberation Sans',sans-serif;font-size:42.6px;stroke:#1a1a1a;stroke-width:0.9px">1</tspan><tspan dx="2.3">.</tspan>095</text>
<line x1="357.2" y1="1823.16" x2="378.7" y2="1823.16" stroke="#000" stroke-width="2.6" stroke-linecap="butt"/>
<line x1="367.7" y1="1795.77" x2="378.7" y2="1795.77" stroke="#000" stroke-width="2.6" stroke-linecap="butt"/>
<line x1="367.7" y1="1768.38" x2="378.7" y2="1768.38" stroke="#000" stroke-width="2.6" stroke-linecap="butt"/>
<line x1="367.7" y1="1740.98" x2="378.7" y2="1740.98" stroke="#000" stroke-width="2.6" stroke-linecap="butt"/>
<line x1="367.7" y1="1713.59" x2="378.7" y2="1713.59" stroke="#000" stroke-width="2.6" stroke-linecap="butt"/>
<text transform="translate(210.08,1835.36) scale(1.04,1)" style="font-size:46px;font-weight:normal;letter-spacing:1.7px" fill="#1a1a1a"><tspan dx="-2.3" style="font-family:NanumGothic,'Liberation Sans',sans-serif;font-size:42.6px;stroke:#1a1a1a;stroke-width:0.9px">1</tspan><tspan dx="2.3">.</tspan><tspan dx="-2.3" style="font-family:NanumGothic,'Liberation Sans',sans-serif;font-size:42.6px;stroke:#1a1a1a;stroke-width:0.9px">1</tspan><tspan dx="2.3">0</tspan>0</text>
<line x1="357.2" y1="1686.2" x2="378.7" y2="1686.2" stroke="#000" stroke-width="2.6" stroke-linecap="butt"/>
<text transform="translate(210.23,1698.4) scale(1.04,1)" style="font-size:46px;font-weight:normal;letter-spacing:1.7px" fill="#1a1a1a"><tspan dx="-2.3" style="font-family:NanumGothic,'Liberation Sans',sans-serif;font-size:42.6px;stroke:#1a1a1a;stroke-width:0.9px">1</tspan><tspan dx="2.3">.</tspan><tspan dx="-2.3" style="font-family:NanumGothic,'Liberation Sans',sans-serif;font-size:42.6px;stroke:#1a1a1a;stroke-width:0.9px">1</tspan><tspan dx="2.3">0</tspan>5</text>
<line x1="2032.6" y1="2371" x2="2054.1" y2="2371" stroke="#000" stroke-width="2.6" stroke-linecap="butt"/>
<line x1="2032.6" y1="2336.76" x2="2043.6" y2="2336.76" stroke="#000" stroke-width="2.6" stroke-linecap="butt"/>
<line x1="2032.6" y1="2302.52" x2="2043.6" y2="2302.52" stroke="#000" stroke-width="2.6" stroke-linecap="butt"/>
<line x1="2032.6" y1="2268.28" x2="2043.6" y2="2268.28" stroke="#000" stroke-width="2.6" stroke-linecap="butt"/>
<line x1="2032.6" y1="2234.04" x2="2043.6" y2="2234.04" stroke="#000" stroke-width="2.6" stroke-linecap="butt"/>
<text transform="translate(2069.6,2384.5) scale(1.04,1)" style="font-size:46px;font-weight:normal;letter-spacing:1.7px" fill="#1a1a1a">0.360</text>
<line x1="2032.6" y1="2199.8" x2="2054.1" y2="2199.8" stroke="#000" stroke-width="2.6" stroke-linecap="butt"/>
<line x1="2032.6" y1="2165.56" x2="2043.6" y2="2165.56" stroke="#000" stroke-width="2.6" stroke-linecap="butt"/>
<line x1="2032.6" y1="2131.32" x2="2043.6" y2="2131.32" stroke="#000" stroke-width="2.6" stroke-linecap="butt"/>
<line x1="2032.6" y1="2097.08" x2="2043.6" y2="2097.08" stroke="#000" stroke-width="2.6" stroke-linecap="butt"/>
<line x1="2032.6" y1="2062.84" x2="2043.6" y2="2062.84" stroke="#000" stroke-width="2.6" stroke-linecap="butt"/>
<text transform="translate(2069.6,2213.3) scale(1.04,1)" style="font-size:46px;font-weight:normal;letter-spacing:1.7px" fill="#1a1a1a">0.365</text>
<line x1="2032.6" y1="2028.6" x2="2054.1" y2="2028.6" stroke="#000" stroke-width="2.6" stroke-linecap="butt"/>
<line x1="2032.6" y1="1994.36" x2="2043.6" y2="1994.36" stroke="#000" stroke-width="2.6" stroke-linecap="butt"/>
<line x1="2032.6" y1="1960.12" x2="2043.6" y2="1960.12" stroke="#000" stroke-width="2.6" stroke-linecap="butt"/>
<line x1="2032.6" y1="1925.88" x2="2043.6" y2="1925.88" stroke="#000" stroke-width="2.6" stroke-linecap="butt"/>
<line x1="2032.6" y1="1891.64" x2="2043.6" y2="1891.64" stroke="#000" stroke-width="2.6" stroke-linecap="butt"/>
<text transform="translate(2069.6,2042.1) scale(1.04,1)" style="font-size:46px;font-weight:normal;letter-spacing:1.7px" fill="#1a1a1a">0.370</text>
<line x1="2032.6" y1="1857.4" x2="2054.1" y2="1857.4" stroke="#000" stroke-width="2.6" stroke-linecap="butt"/>
<line x1="2032.6" y1="1823.16" x2="2043.6" y2="1823.16" stroke="#000" stroke-width="2.6" stroke-linecap="butt"/>
<line x1="2032.6" y1="1788.92" x2="2043.6" y2="1788.92" stroke="#000" stroke-width="2.6" stroke-linecap="butt"/>
<line x1="2032.6" y1="1754.68" x2="2043.6" y2="1754.68" stroke="#000" stroke-width="2.6" stroke-linecap="butt"/>
<line x1="2032.6" y1="1720.44" x2="2043.6" y2="1720.44" stroke="#000" stroke-width="2.6" stroke-linecap="butt"/>
<text transform="translate(2069.6,1870.9) scale(1.04,1)" style="font-size:46px;font-weight:normal;letter-spacing:1.7px" fill="#1a1a1a">0.375</text>
<line x1="2032.6" y1="1686.2" x2="2054.1" y2="1686.2" stroke="#000" stroke-width="2.6" stroke-linecap="butt"/>
<text transform="translate(2069.6,1699.7) scale(1.04,1)" style="font-size:46px;font-weight:normal;letter-spacing:1.7px" fill="#1a1a1a">0.380</text>
<text transform="translate(435.21,1797.3) scale(1.06,1)" style="font-size:69.5px;font-weight:normal;letter-spacing:3.96px" fill="#1a1a1a">c)</text>
<text transform="translate(518.36,1797.3) scale(1.06,1)" style="font-size:69.5px;font-weight:normal;letter-spacing:0.78px" fill="#1a1a1a">BODY</text>
<line x1="505.34" y1="2260.78" x2="527.66" y2="2231.02" stroke="#d81e1e" stroke-width="2.4" stroke-linecap="butt"/>
<line x1="547.36" y1="2227.92" x2="564.44" y2="2239.98" stroke="#d81e1e" stroke-width="2.4" stroke-linecap="butt"/>
<line x1="586.48" y1="2239.1" x2="604.82" y2="2223.8" stroke="#d81e1e" stroke-width="2.4" stroke-linecap="butt"/>
<line x1="629.4" y1="2214.9" x2="640.7" y2="2214.9" stroke="#d81e1e" stroke-width="2.4" stroke-linecap="butt"/>
<line x1="664" y1="2204.66" x2="723.6" y2="2139.74" stroke="#d81e1e" stroke-width="2.4" stroke-linecap="butt"/>
<line x1="743.5" y1="2138.6" x2="802" y2="2189.3" stroke="#d81e1e" stroke-width="2.4" stroke-linecap="butt"/>
<line x1="820.87" y1="2187.31" x2="882.93" y2="2105.09" stroke="#d81e1e" stroke-width="2.4" stroke-linecap="butt"/>
<line x1="900.52" y1="2104.4" x2="960.58" y2="2172.1" stroke="#d81e1e" stroke-width="2.4" stroke-linecap="butt"/>
<line x1="981.82" y1="2175.51" x2="1193.98" y2="2052.19" stroke="#d81e1e" stroke-width="2.4" stroke-linecap="butt"/>
<line x1="1219.73" y1="2047.39" x2="1428.97" y2="2080.81" stroke="#d81e1e" stroke-width="2.4" stroke-linecap="butt"/>
<line x1="1456.39" y1="2085.42" x2="1665.71" y2="2122.38" stroke="#d81e1e" stroke-width="2.4" stroke-linecap="butt"/>
<line x1="1690" y1="2115.81" x2="1904.4" y2="1934.09" stroke="#d81e1e" stroke-width="2.4" stroke-linecap="butt"/>
<polygon points="502.36,2257.32 502.36,2259.63 505.59,2259.63 505.59,2262.4 508.83,2262.4 508.83,2268.4 512.16,2268.4 512.16,2273.4 508.83,2273.4 508.83,2279.4 505.59,2279.4 505.59,2282.17 502.36,2282.17 502.36,2284.48 491.64,2284.48 491.64,2282.17 488.41,2282.17 488.41,2279.4 485.17,2279.4 485.17,2273.4 481.84,2273.4 481.84,2268.4 485.17,2268.4 485.17,2262.4 488.41,2262.4 488.41,2259.63 491.64,2259.63 491.64,2257.32" fill="#ff0000"/>
<polygon points="541.36,2205.32 541.36,2207.63 544.59,2207.63 544.59,2210.4 547.83,2210.4 547.83,2216.4 551.16,2216.4 551.16,2221.4 547.83,2221.4 547.83,2227.4 544.59,2227.4 544.59,2230.17 541.36,2230.17 541.36,2232.48 530.64,2232.48 530.64,2230.17 527.41,2230.17 527.41,2227.4 524.17,2227.4 524.17,2221.4 520.84,2221.4 520.84,2216.4 524.17,2216.4 524.17,2210.4 527.41,2210.4 527.41,2207.63 530.64,2207.63 530.64,2205.32" fill="#ff0000"/>
<polygon points="581.16,2233.42 581.16,2235.73 584.39,2235.73 584.39,2238.5 587.63,2238.5 587.63,2244.5 590.96,2244.5 590.96,2249.5 587.63,2249.5 587.63,2255.5 584.39,2255.5 584.39,2258.27 581.16,2258.27 581.16,2260.58 570.44,2260.58 570.44,2258.27 567.21,2258.27 567.21,2255.5 563.97,2255.5 563.97,2249.5 560.64,2249.5 560.64,2244.5 563.97,2244.5 563.97,2238.5 567.21,2238.5 567.21,2235.73 570.44,2235.73 570.44,2233.42" fill="#ff0000"/>
<polygon points="620.86,2200.32 620.86,2202.63 624.09,2202.63 624.09,2205.4 627.33,2205.4 627.33,2211.4 630.66,2211.4 630.66,2216.4 627.33,2216.4 627.33,2222.4 624.09,2222.4 624.09,2225.17 620.86,2225.17 620.86,2227.48 610.14,2227.48 610.14,2225.17 606.91,2225.17 606.91,2222.4 603.67,2222.4 603.67,2216.4 600.34,2216.4 600.34,2211.4 603.67,2211.4 603.67,2205.4 606.91,2205.4 606.91,2202.63 610.14,2202.63 610.14,2200.32" fill="#ff0000"/>
<polygon points="659.96,2200.32 659.96,2202.63 663.19,2202.63 663.19,2205.4 666.43,2205.4 666.43,2211.4 669.76,2211.4 669.76,2216.4 666.43,2216.4 666.43,2222.4 663.19,2222.4 663.19,2225.17 659.96,2225.17 659.96,2227.48 649.24,2227.48 649.24,2225.17 646.01,2225.17 646.01,2222.4 642.77,2222.4 642.77,2216.4 639.44,2216.4 639.44,2211.4 642.77,2211.4 642.77,2205.4 646.01,2205.4 646.01,2202.63 649.24,2202.63 649.24,2200.32" fill="#ff0000"/>
<polygon points="738.36,2114.92 738.36,2117.23 741.59,2117.23 741.59,2120 744.83,2120 744.83,2126 748.16,2126 748.16,2131 744.83,2131 744.83,2137 741.59,2137 741.59,2139.77 738.36,2139.77 738.36,2142.08 727.64,2142.08 727.64,2139.77 724.41,2139.77 724.41,2137 721.17,2137 721.17,2131 717.84,2131 717.84,2126 721.17,2126 721.17,2120 724.41,2120 724.41,2117.23 727.64,2117.23 727.64,2114.92" fill="#ff0000"/>
<polygon points="817.86,2183.82 817.86,2186.13 821.09,2186.13 821.09,2188.9 824.33,2188.9 824.33,2194.9 827.66,2194.9 827.66,2199.9 824.33,2199.9 824.33,2205.9 821.09,2205.9 821.09,2208.67 817.86,2208.67 817.86,2210.98 807.14,2210.98 807.14,2208.67 803.91,2208.67 803.91,2205.9 800.67,2205.9 800.67,2199.9 797.34,2199.9 797.34,2194.9 800.67,2194.9 800.67,2188.9 803.91,2188.9 803.91,2186.13 807.14,2186.13 807.14,2183.82" fill="#ff0000"/>
<polygon points="896.66,2079.42 896.66,2081.73 899.89,2081.73 899.89,2084.5 903.13,2084.5 903.13,2090.5 906.46,2090.5 906.46,2095.5 903.13,2095.5 903.13,2101.5 899.89,2101.5 899.89,2104.27 896.66,2104.27 896.66,2106.58 885.94,2106.58 885.94,2104.27 882.71,2104.27 882.71,2101.5 879.47,2101.5 879.47,2095.5 876.14,2095.5 876.14,2090.5 879.47,2090.5 879.47,2084.5 882.71,2084.5 882.71,2081.73 885.94,2081.73 885.94,2079.42" fill="#ff0000"/>
<polygon points="975.16,2167.92 975.16,2170.23 978.39,2170.23 978.39,2173 981.63,2173 981.63,2179 984.96,2179 984.96,2184 981.63,2184 981.63,2190 978.39,2190 978.39,2192.77 975.16,2192.77 975.16,2195.08 964.44,2195.08 964.44,2192.77 961.21,2192.77 961.21,2190 957.97,2190 957.97,2184 954.64,2184 954.64,2179 957.97,2179 957.97,2173 961.21,2173 961.21,2170.23 964.44,2170.23 964.44,2167.92" fill="#ff0000"/>
<polygon points="1211.36,2030.62 1211.36,2032.93 1214.59,2032.93 1214.59,2035.7 1217.83,2035.7 1217.83,2041.7 1221.16,2041.7 1221.16,2046.7 1217.83,2046.7 1217.83,2052.7 1214.59,2052.7 1214.59,2055.47 1211.36,2055.47 1211.36,2057.78 1200.64,2057.78 1200.64,2055.47 1197.41,2055.47 1197.41,2052.7 1194.17,2052.7 1194.17,2046.7 1190.84,2046.7 1190.84,2041.7 1194.17,2041.7 1194.17,2035.7 1197.41,2035.7 1197.41,2032.93 1200.64,2032.93 1200.64,2030.62" fill="#ff0000"/>
<polygon points="1448.06,2068.42 1448.06,2070.73 1451.29,2070.73 1451.29,2073.5 1454.53,2073.5 1454.53,2079.5 1457.86,2079.5 1457.86,2084.5 1454.53,2084.5 1454.53,2090.5 1451.29,2090.5 1451.29,2093.27 1448.06,2093.27 1448.06,2095.58 1437.34,2095.58 1437.34,2093.27 1434.11,2093.27 1434.11,2090.5 1430.87,2090.5 1430.87,2084.5 1427.54,2084.5 1427.54,2079.5 1430.87,2079.5 1430.87,2073.5 1434.11,2073.5 1434.11,2070.73 1437.34,2070.73 1437.34,2068.42" fill="#ff0000"/>
<polygon points="1684.76,2110.22 1684.76,2112.53 1687.99,2112.53 1687.99,2115.3 1691.23,2115.3 1691.23,2121.3 1694.56,2121.3 1694.56,2126.3 1691.23,2126.3 1691.23,2132.3 1687.99,2132.3 1687.99,2135.07 1684.76,2135.07 1684.76,2137.38 1674.04,2137.38 1674.04,2135.07 1670.81,2135.07 1670.81,2132.3 1667.57,2132.3 1667.57,2126.3 1664.24,2126.3 1664.24,2121.3 1667.57,2121.3 1667.57,2115.3 1670.81,2115.3 1670.81,2112.53 1674.04,2112.53 1674.04,2110.22" fill="#ff0000"/>
<polygon points="1920.36,1910.52 1920.36,1912.83 1923.59,1912.83 1923.59,1915.6 1926.83,1915.6 1926.83,1921.6 1930.16,1921.6 1930.16,1926.6 1926.83,1926.6 1926.83,1932.6 1923.59,1932.6 1923.59,1935.37 1920.36,1935.37 1920.36,1937.68 1909.64,1937.68 1909.64,1935.37 1906.41,1935.37 1906.41,1932.6 1903.17,1932.6 1903.17,1926.6 1899.84,1926.6 1899.84,1921.6 1903.17,1921.6 1903.17,1915.6 1906.41,1915.6 1906.41,1912.83 1909.64,1912.83 1909.64,1910.52" fill="#ff0000"/>
<line x1="509.98" y1="2026.82" x2="523.02" y2="2015.18" stroke="#1e1ed8" stroke-width="2.4" stroke-linecap="butt"/>
<line x1="552.3" y1="2009.7" x2="559.5" y2="2012.4" stroke="#1e1ed8" stroke-width="2.4" stroke-linecap="butt"/>
<line x1="589.45" y1="2007.71" x2="601.85" y2="1997.89" stroke="#1e1ed8" stroke-width="2.4" stroke-linecap="butt"/>
<line x1="632.6" y1="1990.29" x2="637.5" y2="1991.21" stroke="#1e1ed8" stroke-width="2.4" stroke-linecap="butt"/>
<line x1="671" y1="1988.58" x2="716.6" y2="1972.42" stroke="#1e1ed8" stroke-width="2.4" stroke-linecap="butt"/>
<line x1="750.16" y1="1963.73" x2="795.34" y2="1956.17" stroke="#1e1ed8" stroke-width="2.4" stroke-linecap="butt"/>
<line x1="829.66" y1="1950.43" x2="874.14" y2="1942.97" stroke="#1e1ed8" stroke-width="2.4" stroke-linecap="butt"/>
<line x1="907.57" y1="1946.28" x2="953.53" y2="1963.72" stroke="#1e1ed8" stroke-width="2.4" stroke-linecap="butt"/>
<line x1="986.94" y1="1966.93" x2="1188.86" y2="1931.97" stroke="#1e1ed8" stroke-width="2.4" stroke-linecap="butt"/>
<line x1="1223.39" y1="1929.56" x2="1425.31" y2="1936.04" stroke="#1e1ed8" stroke-width="2.4" stroke-linecap="butt"/>
<line x1="1459.98" y1="1934.55" x2="1662.12" y2="1910.55" stroke="#1e1ed8" stroke-width="2.4" stroke-linecap="butt"/>
<line x1="1696.28" y1="1904.29" x2="1898.12" y2="1854.01" stroke="#1e1ed8" stroke-width="2.4" stroke-linecap="butt"/>
<polygon points="502.36,2023.82 502.36,2026.13 505.59,2026.13 505.59,2028.9 508.83,2028.9 508.83,2034.9 512.16,2034.9 512.16,2039.9 508.83,2039.9 508.83,2045.9 505.59,2045.9 505.59,2048.67 502.36,2048.67 502.36,2050.98 491.64,2050.98 491.64,2048.67 488.41,2048.67 488.41,2045.9 485.17,2045.9 485.17,2039.9 481.84,2039.9 481.84,2034.9 485.17,2034.9 485.17,2028.9 488.41,2028.9 488.41,2026.13 491.64,2026.13 491.64,2023.82" fill="#0000ff"/>
<polygon points="541.36,1989.02 541.36,1991.33 544.59,1991.33 544.59,1994.1 547.83,1994.1 547.83,2000.1 551.16,2000.1 551.16,2005.1 547.83,2005.1 547.83,2011.1 544.59,2011.1 544.59,2013.87 541.36,2013.87 541.36,2016.18 530.64,2016.18 530.64,2013.87 527.41,2013.87 527.41,2011.1 524.17,2011.1 524.17,2005.1 520.84,2005.1 520.84,2000.1 524.17,2000.1 524.17,1994.1 527.41,1994.1 527.41,1991.33 530.64,1991.33 530.64,1989.02" fill="#0000ff"/>
<polygon points="581.16,2003.92 581.16,2006.23 584.39,2006.23 584.39,2009 587.63,2009 587.63,2015 590.96,2015 590.96,2020 587.63,2020 587.63,2026 584.39,2026 584.39,2028.77 581.16,2028.77 581.16,2031.08 570.44,2031.08 570.44,2028.77 567.21,2028.77 567.21,2026 563.97,2026 563.97,2020 560.64,2020 560.64,2015 563.97,2015 563.97,2009 567.21,2009 567.21,2006.23 570.44,2006.23 570.44,2003.92" fill="#0000ff"/>
<polygon points="620.86,1972.52 620.86,1974.83 624.09,1974.83 624.09,1977.6 627.33,1977.6 627.33,1983.6 630.66,1983.6 630.66,1988.6 627.33,1988.6 627.33,1994.6 624.09,1994.6 624.09,1997.37 620.86,1997.37 620.86,1999.68 610.14,1999.68 610.14,1997.37 606.91,1997.37 606.91,1994.6 603.67,1994.6 603.67,1988.6 600.34,1988.6 600.34,1983.6 603.67,1983.6 603.67,1977.6 606.91,1977.6 606.91,1974.83 610.14,1974.83 610.14,1972.52" fill="#0000ff"/>
<polygon points="659.96,1979.82 659.96,1982.13 663.19,1982.13 663.19,1984.9 666.43,1984.9 666.43,1990.9 669.76,1990.9 669.76,1995.9 666.43,1995.9 666.43,2001.9 663.19,2001.9 663.19,2004.67 659.96,2004.67 659.96,2006.98 649.24,2006.98 649.24,2004.67 646.01,2004.67 646.01,2001.9 642.77,2001.9 642.77,1995.9 639.44,1995.9 639.44,1990.9 642.77,1990.9 642.77,1984.9 646.01,1984.9 646.01,1982.13 649.24,1982.13 649.24,1979.82" fill="#0000ff"/>
<polygon points="738.36,1952.02 738.36,1954.33 741.59,1954.33 741.59,1957.1 744.83,1957.1 744.83,1963.1 748.16,1963.1 748.16,1968.1 744.83,1968.1 744.83,1974.1 741.59,1974.1 741.59,1976.87 738.36,1976.87 738.36,1979.18 727.64,1979.18 727.64,1976.87 724.41,1976.87 724.41,1974.1 721.17,1974.1 721.17,1968.1 717.84,1968.1 717.84,1963.1 721.17,1963.1 721.17,1957.1 724.41,1957.1 724.41,1954.33 727.64,1954.33 727.64,1952.02" fill="#0000ff"/>
<polygon points="817.86,1938.72 817.86,1941.03 821.09,1941.03 821.09,1943.8 824.33,1943.8 824.33,1949.8 827.66,1949.8 827.66,1954.8 824.33,1954.8 824.33,1960.8 821.09,1960.8 821.09,1963.57 817.86,1963.57 817.86,1965.88 807.14,1965.88 807.14,1963.57 803.91,1963.57 803.91,1960.8 800.67,1960.8 800.67,1954.8 797.34,1954.8 797.34,1949.8 800.67,1949.8 800.67,1943.8 803.91,1943.8 803.91,1941.03 807.14,1941.03 807.14,1938.72" fill="#0000ff"/>
<polygon points="896.66,1925.52 896.66,1927.83 899.89,1927.83 899.89,1930.6 903.13,1930.6 903.13,1936.6 906.46,1936.6 906.46,1941.6 903.13,1941.6 903.13,1947.6 899.89,1947.6 899.89,1950.37 896.66,1950.37 896.66,1952.68 885.94,1952.68 885.94,1950.37 882.71,1950.37 882.71,1947.6 879.47,1947.6 879.47,1941.6 876.14,1941.6 876.14,1936.6 879.47,1936.6 879.47,1930.6 882.71,1930.6 882.71,1927.83 885.94,1927.83 885.94,1925.52" fill="#0000ff"/>
<polygon points="975.16,1955.32 975.16,1957.63 978.39,1957.63 978.39,1960.4 981.63,1960.4 981.63,1966.4 984.96,1966.4 984.96,1971.4 981.63,1971.4 981.63,1977.4 978.39,1977.4 978.39,1980.17 975.16,1980.17 975.16,1982.48 964.44,1982.48 964.44,1980.17 961.21,1980.17 961.21,1977.4 957.97,1977.4 957.97,1971.4 954.64,1971.4 954.64,1966.4 957.97,1966.4 957.97,1960.4 961.21,1960.4 961.21,1957.63 964.44,1957.63 964.44,1955.32" fill="#0000ff"/>
<polygon points="1211.36,1914.42 1211.36,1916.73 1214.59,1916.73 1214.59,1919.5 1217.83,1919.5 1217.83,1925.5 1221.16,1925.5 1221.16,1930.5 1217.83,1930.5 1217.83,1936.5 1214.59,1936.5 1214.59,1939.27 1211.36,1939.27 1211.36,1941.58 1200.64,1941.58 1200.64,1939.27 1197.41,1939.27 1197.41,1936.5 1194.17,1936.5 1194.17,1930.5 1190.84,1930.5 1190.84,1925.5 1194.17,1925.5 1194.17,1919.5 1197.41,1919.5 1197.41,1916.73 1200.64,1916.73 1200.64,1914.42" fill="#0000ff"/>
<polygon points="1448.06,1922.02 1448.06,1924.33 1451.29,1924.33 1451.29,1927.1 1454.53,1927.1 1454.53,1933.1 1457.86,1933.1 1457.86,1938.1 1454.53,1938.1 1454.53,1944.1 1451.29,1944.1 1451.29,1946.87 1448.06,1946.87 1448.06,1949.18 1437.34,1949.18 1437.34,1946.87 1434.11,1946.87 1434.11,1944.1 1430.87,1944.1 1430.87,1938.1 1427.54,1938.1 1427.54,1933.1 1430.87,1933.1 1430.87,1927.1 1434.11,1927.1 1434.11,1924.33 1437.34,1924.33 1437.34,1922.02" fill="#0000ff"/>
<polygon points="1684.76,1893.92 1684.76,1896.23 1687.99,1896.23 1687.99,1899 1691.23,1899 1691.23,1905 1694.56,1905 1694.56,1910 1691.23,1910 1691.23,1916 1687.99,1916 1687.99,1918.77 1684.76,1918.77 1684.76,1921.08 1674.04,1921.08 1674.04,1918.77 1670.81,1918.77 1670.81,1916 1667.57,1916 1667.57,1910 1664.24,1910 1664.24,1905 1667.57,1905 1667.57,1899 1670.81,1899 1670.81,1896.23 1674.04,1896.23 1674.04,1893.92" fill="#0000ff"/>
<polygon points="1920.36,1835.22 1920.36,1837.53 1923.59,1837.53 1923.59,1840.3 1926.83,1840.3 1926.83,1846.3 1930.16,1846.3 1930.16,1851.3 1926.83,1851.3 1926.83,1857.3 1923.59,1857.3 1923.59,1860.07 1920.36,1860.07 1920.36,1862.38 1909.64,1862.38 1909.64,1860.07 1906.41,1860.07 1906.41,1857.3 1903.17,1857.3 1903.17,1851.3 1899.84,1851.3 1899.84,1846.3 1903.17,1846.3 1903.17,1840.3 1906.41,1840.3 1906.41,1837.53 1909.64,1837.53 1909.64,1835.22" fill="#0000ff"/>
<line x1="1746" y1="2196.6" x2="1786.5" y2="2196.6" stroke="#d81e1e" stroke-width="2.5" stroke-linecap="butt"/>
<line x1="1820.5" y1="2196.6" x2="1858.1" y2="2196.6" stroke="#d81e1e" stroke-width="2.5" stroke-linecap="butt"/>
<polygon points="1809.1,2182.41 1809.1,2184.82 1812.48,2184.82 1812.48,2187.72 1815.86,2187.72 1815.86,2193.99 1819.33,2193.99 1819.33,2199.21 1815.86,2199.21 1815.86,2205.48 1812.48,2205.48 1812.48,2208.38 1809.1,2208.38 1809.1,2210.79 1797.9,2210.79 1797.9,2208.38 1794.52,2208.38 1794.52,2205.48 1791.14,2205.48 1791.14,2199.21 1787.67,2199.21 1787.67,2193.99 1791.14,2193.99 1791.14,2187.72 1794.52,2187.72 1794.52,2184.82 1797.9,2184.82 1797.9,2182.41" fill="#ff0000"/>
<text transform="translate(1858.66,2211) scale(1.04,1)" style="font-size:46px;font-weight:normal;letter-spacing:1.01px" fill="#1a1a1a"><tspan dx="-2.3" style="font-family:NanumGothic,'Liberation Sans',sans-serif;font-size:42.6px;stroke:#1a1a1a;stroke-width:0.9px">1</tspan><tspan dx="2.3">3</tspan>C</text>
<line x1="1746" y1="2253" x2="1786.5" y2="2253" stroke="#1e1ed8" stroke-width="2.5" stroke-linecap="butt"/>
<line x1="1820.5" y1="2253" x2="1858.1" y2="2253" stroke="#1e1ed8" stroke-width="2.5" stroke-linecap="butt"/>
<polygon points="1809.1,2238.81 1809.1,2241.22 1812.48,2241.22 1812.48,2244.12 1815.86,2244.12 1815.86,2250.39 1819.33,2250.39 1819.33,2255.61 1815.86,2255.61 1815.86,2261.88 1812.48,2261.88 1812.48,2264.78 1809.1,2264.78 1809.1,2267.19 1797.9,2267.19 1797.9,2264.78 1794.52,2264.78 1794.52,2261.88 1791.14,2261.88 1791.14,2255.61 1787.67,2255.61 1787.67,2250.39 1791.14,2250.39 1791.14,2244.12 1794.52,2244.12 1794.52,2241.22 1797.9,2241.22 1797.9,2238.81" fill="#0000ff"/>
<text transform="translate(1858.66,2267.5) scale(1.04,1)" style="font-size:46px;font-weight:normal;letter-spacing:2px" fill="#1a1a1a"><tspan dx="-2.3" style="font-family:NanumGothic,'Liberation Sans',sans-serif;font-size:42.6px;stroke:#1a1a1a;stroke-width:0.9px">1</tspan><tspan dx="2.3">5</tspan>N</text>
<text transform="translate(94.1,1570.91) rotate(-90)" style="font-size:71px;font-weight:bold;letter-spacing:0px" fill="#ff0000"><tspan dx="5.5" style="font-family:NanumGothic,'Liberation Sans',sans-serif;font-size:64.54px;stroke:#ff0000;stroke-width:1.8px">1</tspan><tspan dx="-5.5">3</tspan></text>
<text transform="translate(160.3,1494.19) rotate(-90)" style="font-size:112px;font-weight:bold;letter-spacing:-1.1px" fill="#ff0000">C atom %</text>
<text transform="translate(2262.3,1544.38) rotate(-90)" style="font-size:71px;font-weight:bold;letter-spacing:0px" fill="#0000ff"><tspan dx="5.5" style="font-family:NanumGothic,'Liberation Sans',sans-serif;font-size:64.54px;stroke:#0000ff;stroke-width:1.8px">1</tspan><tspan dx="-5.5">5</tspan></text>
<text transform="translate(2329.4,1466.5) rotate(-90)" style="font-size:112px;font-weight:bold;letter-spacing:-1.82px" fill="#0000ff">N atom %</text>
<text x="814.24" y="2648.6" style="font-size:90.5px;font-weight:bold;letter-spacing:5.66px" fill="#000">Elapsed</text>
<text x="1221.81" y="2648.6" style="font-size:90.5px;font-weight:bold;letter-spacing:5.8px" fill="#000">time</text>
<text x="1453.67" y="2648.6" style="font-size:90.5px;font-weight:bold;letter-spacing:5.25px" fill="#000">(h)</text>
</svg>
</body></html>
